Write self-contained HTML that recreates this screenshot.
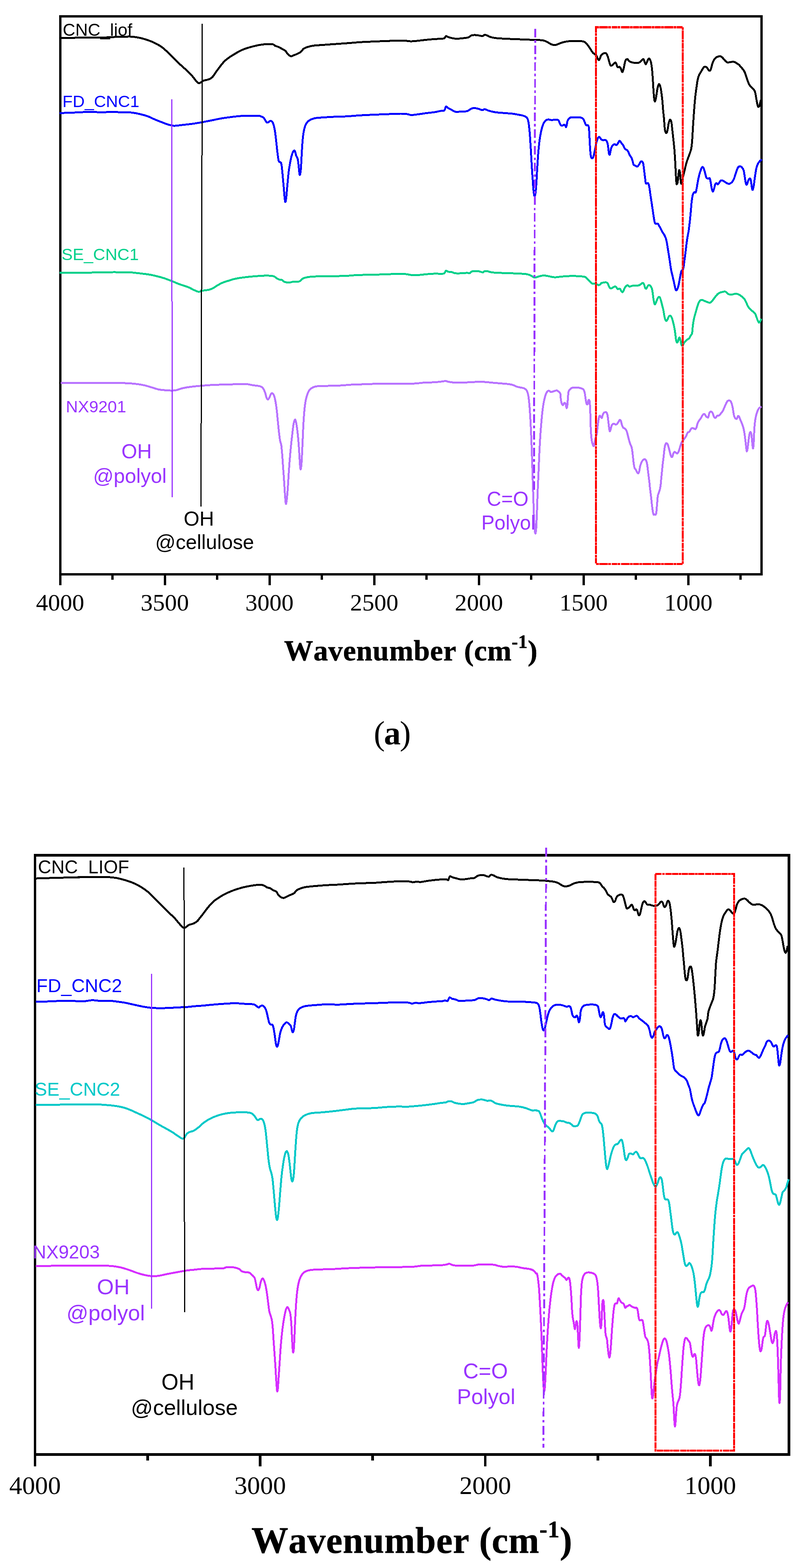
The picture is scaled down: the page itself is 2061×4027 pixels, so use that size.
<!DOCTYPE html>
<html lang="en"><head><meta charset="utf-8"><title>FTIR spectra</title>
<style>
html,body{margin:0;padding:0;background:#fff;}
body{width:2061px;height:4027px;overflow:hidden;}
svg{display:block;position:absolute;left:0;top:0;}
.tick{font-family:'Liberation Serif', 'Times New Roman', serif;fill:#000;text-anchor:middle;}
.ttl{font-family:'Liberation Serif', 'Times New Roman', serif;font-weight:bold;fill:#000;stroke:#000;stroke-width:0.8px;text-anchor:middle;font-kerning:none;}
.lab{font-family:'Liberation Sans', Arial, sans-serif;}
.crv{fill:none;stroke-linejoin:round;stroke-linecap:butt;}
</style></head><body>
<svg width="2061" height="4027" viewBox="0 0 2061 4027">
<rect x="0" y="0" width="2061" height="4027" fill="#ffffff"/>
<g id="chartA">
<rect x="154.5" y="41.8" width="1802.5" height="1433.2" fill="none" stroke="#000" stroke-width="6" shape-rendering="crispEdges"/>
<path d="M154.5,1475V1503M423.6,1475V1503M692.6,1475V1503M961.7,1475V1503M1230.8,1475V1503M1499.8,1475V1503M1768.9,1475V1503M289.0,1475V1489M558.1,1475V1489M827.2,1475V1489M1096.2,1475V1489M1365.3,1475V1489M1634.4,1475V1489M1903.4,1475V1489" fill="none" stroke="#000" stroke-width="6" shape-rendering="crispEdges"/>
<path class="crv" d="M153.3,97.4C163.9,97.3 199.0,96.9 216.8,96.8C234.6,96.6 249.0,97.0 260.2,96.8C271.3,96.5 274.1,95.8 283.5,95.4C293.0,95.0 308.0,94.6 316.9,94.4C325.8,94.2 330.3,93.7 336.9,94.1C343.6,94.5 350.3,95.4 357.0,96.8C363.7,98.1 370.3,99.9 377.0,102.1C383.7,104.3 390.4,106.8 397.0,110.1C403.7,113.4 410.4,116.8 417.1,121.8C423.7,126.8 430.4,133.8 437.1,140.2C443.8,146.6 450.5,153.8 457.1,160.2C463.8,166.6 471.0,172.7 477.2,178.5C483.3,184.4 489.4,190.3 493.9,195.2C498.3,200.1 501.1,204.9 503.9,207.9C506.7,211.0 508.3,213.1 510.5,213.6C512.8,214.1 515.0,212.0 517.2,210.9C519.4,209.8 521.1,208.0 523.9,206.9C526.7,205.9 531.1,205.4 533.9,204.6C536.7,203.7 538.4,203.3 540.6,201.9C542.8,200.5 544.5,199.6 547.3,196.2C550.1,192.9 553.9,186.5 557.3,181.9C560.6,177.3 564.0,172.7 567.3,168.5C570.6,164.4 573.5,160.5 577.3,156.8C581.1,153.2 585.7,149.9 590.0,146.8C594.3,143.8 598.9,141.2 603.4,138.5C607.8,135.8 612.3,133.0 616.7,130.8C621.2,128.6 625.1,126.9 630.1,125.1C635.1,123.3 641.2,121.6 646.8,120.1C652.3,118.6 657.9,117.2 663.4,116.1C669.0,115.1 674.0,114.2 680.1,113.8C686.3,113.3 695.7,112.8 700.2,113.4C704.6,114.1 704.1,116.2 706.8,117.5C709.6,118.7 713.5,119.6 716.9,121.1C720.2,122.7 724.1,125.2 726.9,126.8C729.7,128.4 731.6,129.0 733.6,130.8C735.5,132.6 736.9,135.9 738.6,137.8C740.2,139.8 741.9,141.4 743.6,142.5C745.2,143.6 746.6,144.6 748.6,144.5C750.5,144.4 752.7,142.8 755.3,141.8C757.8,140.8 760.5,140.0 763.6,138.5C766.7,137.0 770.8,135.0 773.6,132.8C776.4,130.6 777.5,127.1 780.3,125.1C783.1,123.1 786.4,122.1 790.3,120.8C794.2,119.5 798.1,118.3 803.7,117.5C809.2,116.6 814.8,116.4 823.7,115.8C832.6,115.1 845.9,114.2 857.1,113.4C868.2,112.7 879.3,111.9 890.5,111.1C901.6,110.3 912.7,109.2 923.8,108.4C935.0,107.7 946.1,107.3 957.2,106.8C968.4,106.3 978.5,105.9 990.6,105.4C1002.7,105.0 1020.7,104.2 1030.0,104.1C1039.3,104.0 1042.2,104.8 1046.7,105.1C1051.1,105.4 1052.3,106.2 1056.7,106.1C1061.2,106.0 1066.7,105.4 1073.4,104.8C1080.1,104.1 1089.5,102.8 1096.8,102.1C1104.0,101.4 1110.7,100.9 1116.8,100.4C1122.9,100.0 1129.3,99.8 1133.5,99.4C1137.7,99.1 1139.7,99.5 1141.8,98.4C1144.0,97.3 1144.5,93.3 1146.2,92.7C1147.8,92.2 1149.0,94.1 1151.9,95.1C1154.7,96.0 1159.9,97.7 1163.5,98.4C1167.2,99.1 1169.7,99.4 1173.6,99.4C1177.4,99.4 1181.9,99.0 1186.9,98.4C1191.9,97.9 1199.4,97.4 1203.6,96.1C1207.8,94.8 1208.6,91.7 1211.9,90.7C1215.3,89.7 1220.0,89.9 1223.6,90.1C1227.2,90.2 1230.9,91.3 1233.6,91.7C1236.4,92.2 1238.4,93.1 1240.3,92.7C1242.3,92.4 1243.4,89.7 1245.3,89.4C1247.3,89.1 1249.5,90.1 1252.0,91.1C1254.5,92.0 1256.7,94.0 1260.3,95.1C1264.0,96.2 1267.6,97.0 1273.7,97.8C1279.8,98.5 1287.6,98.9 1297.1,99.4C1306.5,99.9 1319.3,100.3 1330.5,100.8C1341.6,101.2 1354.9,101.8 1363.8,102.1C1372.7,102.4 1378.3,102.4 1383.9,102.8C1389.4,103.1 1393.3,103.2 1397.2,104.1C1401.1,105.0 1403.9,106.8 1407.2,108.4C1410.6,110.1 1414.2,112.9 1417.3,114.1C1420.3,115.3 1422.8,115.9 1425.6,115.8C1428.4,115.7 1430.9,114.5 1433.9,113.4C1437.0,112.4 1440.1,110.6 1444.0,109.4C1447.9,108.3 1453.0,107.1 1457.3,106.4C1461.7,105.8 1464.0,105.5 1470.0,105.4C1476.0,105.3 1487.8,105.3 1493.4,105.8C1498.9,106.3 1500.0,106.0 1503.4,108.4C1506.7,110.8 1510.1,115.7 1513.4,120.1C1516.7,124.6 1520.4,131.5 1523.4,135.1C1526.5,138.8 1529.5,139.0 1531.8,141.8C1534.0,144.6 1535.4,149.9 1536.8,151.8C1538.2,153.8 1538.7,155.2 1540.1,153.5C1541.5,151.8 1543.2,144.6 1545.1,141.8C1547.1,139.0 1549.7,137.6 1551.8,136.8C1553.8,136.0 1555.8,135.4 1557.5,136.8C1559.1,138.2 1560.4,141.3 1561.8,145.2C1563.3,149.1 1564.9,156.3 1566.1,160.2C1567.4,164.1 1568.0,167.5 1569.5,168.5C1571.0,169.5 1573.1,167.5 1575.2,166.2C1577.2,164.9 1579.9,159.9 1581.8,160.8C1583.8,161.8 1585.2,170.0 1586.8,171.9C1588.5,173.7 1590.5,171.3 1591.9,171.9C1593.2,172.4 1594.0,173.0 1595.2,175.2C1596.4,177.4 1597.9,185.2 1599.2,185.2C1600.5,185.2 1601.6,179.9 1602.9,175.2C1604.1,170.5 1605.4,160.7 1606.9,156.8C1608.4,152.9 1610.2,151.8 1611.9,151.8C1613.6,151.8 1615.2,155.6 1616.9,156.8C1618.6,158.1 1619.1,158.7 1621.9,159.5C1624.7,160.3 1630.0,161.7 1633.6,161.9C1637.2,162.0 1640.4,161.9 1643.6,160.2C1646.8,158.5 1650.8,152.1 1652.9,151.8C1655.1,151.6 1655.2,156.3 1656.3,158.5C1657.4,160.7 1658.4,165.5 1659.6,165.2C1660.8,164.9 1662.3,159.3 1663.6,156.8C1665.0,154.3 1666.2,150.2 1667.6,150.2C1669.0,150.2 1670.7,152.7 1672.0,156.8C1673.3,161.0 1674.4,167.4 1675.3,175.2C1676.3,183.0 1676.9,193.3 1677.6,203.6C1678.4,213.9 1678.9,227.6 1679.7,237.0C1680.4,246.3 1681.4,256.9 1682.3,259.7C1683.3,262.4 1684.1,259.1 1685.3,253.7C1686.6,248.2 1688.3,233.2 1689.7,226.9C1691.1,220.7 1692.3,215.9 1693.7,215.9C1695.1,215.9 1696.6,220.1 1698.0,226.9C1699.4,233.8 1701.0,248.2 1702.0,257.0C1703.0,265.8 1703.1,271.9 1703.8,280.0C1704.6,288.1 1705.7,297.6 1706.4,305.8C1707.1,314.0 1707.6,323.4 1708.2,329.0C1708.9,334.6 1709.5,337.3 1710.3,339.3C1711.1,341.4 1712.0,342.3 1712.9,341.4C1713.7,340.5 1714.5,338.4 1715.4,334.2C1716.4,330.0 1717.5,320.6 1718.5,316.1C1719.6,311.6 1720.8,307.5 1721.9,307.1C1723.0,306.7 1724.3,309.0 1725.3,313.5C1726.2,318.1 1727.0,326.9 1727.8,334.2C1728.7,341.5 1729.5,349.2 1730.4,357.4C1731.3,365.6 1732.2,373.7 1733.0,383.2C1733.8,392.6 1734.5,403.8 1735.1,414.1C1735.7,424.5 1736.1,436.1 1736.6,445.1C1737.1,454.1 1737.7,463.7 1738.1,468.3C1738.6,473.0 1738.8,473.4 1739.4,473.0C1740.0,472.5 1741.0,470.4 1741.8,465.7C1742.5,461.1 1743.2,449.9 1743.8,445.1C1744.5,440.3 1745.0,436.8 1745.6,436.8C1746.3,436.8 1747.0,440.3 1747.7,445.1C1748.3,449.9 1748.9,461.2 1749.5,465.7C1750.1,470.3 1750.4,472.2 1751.0,472.2C1751.6,472.2 1752.4,469.0 1753.1,465.7C1753.8,462.5 1754.4,457.6 1755.4,452.8C1756.5,448.1 1757.8,443.4 1759.3,437.4C1760.8,431.3 1762.5,423.2 1764.5,416.7C1766.4,410.3 1769.0,404.3 1770.9,398.7C1772.8,393.1 1774.8,389.2 1776.1,383.2C1777.4,377.2 1777.9,371.1 1778.6,362.5C1779.4,354.0 1779.8,341.9 1780.5,331.6C1781.1,321.3 1782.2,305.9 1782.5,300.6C1782.9,295.4 1782.1,305.6 1782.5,300.0C1783.0,294.4 1784.2,276.6 1785.0,266.9C1785.9,257.2 1786.7,249.1 1787.5,241.9C1788.4,234.6 1789.2,229.4 1790.0,223.5C1790.9,217.7 1791.6,211.7 1792.5,206.8C1793.5,202.0 1794.5,197.9 1795.9,194.3C1797.3,190.7 1799.2,188.1 1800.9,185.1C1802.6,182.2 1804.5,179.0 1805.9,176.8C1807.3,174.6 1808.0,173.0 1809.2,172.1C1810.4,171.2 1811.7,171.0 1813.1,171.4C1814.5,171.9 1816.3,173.3 1817.6,174.8C1818.9,176.2 1820.0,179.0 1820.9,180.1C1821.9,181.3 1822.6,181.8 1823.4,181.8C1824.3,181.8 1825.1,181.8 1825.9,180.1C1826.8,178.5 1827.6,174.7 1828.4,171.8C1829.3,168.9 1829.8,165.7 1830.9,162.6C1832.1,159.5 1833.6,155.9 1835.1,153.4C1836.6,150.9 1838.5,148.9 1840.1,147.6C1841.8,146.2 1843.5,146.0 1845.1,145.4C1846.8,144.8 1848.6,144.2 1850.1,144.2C1851.7,144.3 1852.8,144.8 1854.3,145.9C1855.8,147.0 1857.6,149.1 1859.3,150.9C1861.0,152.7 1862.7,155.2 1864.3,156.8C1866.0,158.3 1867.5,159.9 1869.3,160.4C1871.1,160.9 1873.1,160.0 1875.2,159.8C1877.3,159.5 1879.8,158.8 1881.9,158.8C1883.9,158.7 1885.7,158.6 1887.7,159.3C1889.6,159.9 1891.6,161.3 1893.5,162.6C1895.5,163.8 1897.4,165.0 1899.4,166.8C1901.3,168.6 1903.4,171.4 1905.2,173.4C1907.0,175.5 1908.7,177.1 1910.2,179.3C1911.8,181.5 1913.1,183.9 1914.4,186.8C1915.7,189.7 1916.6,193.5 1917.7,196.8C1918.9,200.2 1919.8,203.5 1921.1,206.8C1922.3,210.2 1923.7,214.1 1925.3,216.8C1926.8,219.6 1928.6,221.6 1930.3,223.5C1931.9,225.5 1933.7,226.9 1935.3,228.5C1936.8,230.2 1938.3,231.0 1939.4,233.5C1940.6,236.0 1941.1,239.4 1941.9,243.6C1942.8,247.7 1943.6,254.1 1944.4,258.6C1945.3,263.0 1946.2,267.5 1946.9,270.3C1947.7,273.0 1948.2,274.7 1949.0,274.9C1949.7,275.2 1950.8,273.8 1951.6,271.9C1952.4,270.0 1953.0,266.1 1953.6,263.6C1954.2,261.1 1955.0,258.0 1955.3,256.9" stroke="#000000" stroke-width="5" shape-rendering="crispEdges"/>
<path class="crv" d="M153.3,290.4C161.1,290.1 186.7,289.3 200.1,288.7C213.4,288.2 223.4,287.0 233.5,287.0C243.5,287.0 250.7,288.7 260.2,288.7C269.6,288.7 281.9,287.0 290.2,287.0C298.6,287.0 303.0,288.4 310.2,288.7C317.5,289.0 326.9,288.3 333.6,288.7C340.3,289.1 343.1,289.5 350.3,291.0C357.5,292.5 369.2,295.2 377.0,297.7C384.8,300.3 390.4,303.6 397.0,306.4C403.7,309.2 411.0,312.1 417.1,314.4C423.2,316.8 428.8,319.0 433.8,320.4C438.8,321.9 441.6,323.0 447.1,323.1C452.7,323.2 458.2,322.1 467.1,321.1C476.0,320.1 489.4,318.8 500.5,317.1C511.7,315.4 522.8,313.2 533.9,311.1C545.0,309.0 558.0,306.1 567.3,304.4C576.6,302.7 582.9,302.0 590.0,301.1C597.1,300.1 603.4,299.3 610.0,298.7C616.7,298.1 621.2,297.6 630.1,297.4C639.0,297.2 656.9,297.2 663.4,297.4C670.0,297.6 667.4,297.9 669.6,298.6C671.8,299.3 674.7,300.2 676.5,301.6C678.3,302.9 679.3,304.8 680.4,306.5C681.6,308.2 682.4,310.4 683.4,311.8C684.4,313.2 685.2,314.7 686.4,315.0C687.5,315.2 689.1,314.1 690.3,313.4C691.5,312.7 692.5,311.3 693.7,310.8C694.8,310.4 696.0,310.1 697.2,310.8C698.5,311.6 700.0,313.1 701.2,315.4C702.3,317.6 703.2,320.6 704.1,324.2C705.0,327.9 705.9,332.3 706.7,337.1C707.4,341.8 708.0,347.3 708.6,352.9C709.3,358.4 710.0,364.7 710.6,370.6C711.3,376.5 711.9,382.8 712.6,388.4C713.3,394.0 713.9,399.9 714.6,404.1C715.2,408.4 715.8,412.0 716.5,414.0C717.3,416.0 718.0,415.8 718.9,416.4C719.8,417.0 721.0,416.0 721.9,417.6C722.7,419.1 723.2,422.2 723.8,425.8C724.4,429.5 724.9,434.7 725.4,439.7C725.9,444.6 726.3,449.8 726.8,455.4C727.3,461.0 727.9,467.6 728.4,473.2C728.9,478.8 729.3,483.7 729.8,489.0C730.2,494.2 730.7,500.3 731.1,504.7C731.6,509.2 732.0,513.2 732.3,515.6C732.7,518.0 732.9,519.1 733.3,519.0C733.7,518.8 734.2,517.6 734.7,514.6C735.2,511.6 735.7,506.1 736.3,500.8C736.8,495.5 737.3,489.3 737.8,483.1C738.4,476.8 739.0,469.9 739.6,463.3C740.2,456.7 740.8,449.8 741.6,443.6C742.3,437.3 743.2,431.8 744.2,425.8C745.1,419.9 746.4,413.2 747.5,408.1C748.6,403.0 749.8,398.6 750.9,395.3C751.9,392.0 753.0,389.8 754.0,388.4C755.0,386.9 756.0,386.3 756.8,386.8C757.6,387.3 758.2,389.1 759.0,391.3C759.7,393.6 760.4,397.6 761.3,400.2C762.3,402.8 763.9,404.5 764.7,407.1C765.5,409.7 765.7,412.2 766.3,416.0C766.8,419.8 767.3,425.2 767.8,429.8C768.3,434.4 768.8,440.4 769.2,443.6C769.6,446.8 769.8,448.8 770.2,449.1C770.6,449.4 771.2,448.5 771.8,445.6C772.3,442.7 772.9,438.0 773.4,431.8C773.8,425.5 774.3,416.3 774.7,408.1C775.2,399.9 775.6,390.3 776.1,382.4C776.6,374.6 777.1,367.3 777.7,360.7C778.3,354.2 778.9,348.2 779.7,343.0C780.5,337.7 781.4,333.1 782.4,329.2C783.5,325.2 784.6,322.1 786.0,319.3C787.4,316.5 788.9,314.4 790.9,312.4C792.9,310.4 795.0,308.9 797.8,307.5C800.6,306.1 804.4,304.8 807.7,303.9C811.0,303.1 812.6,303.0 817.5,302.5C822.5,302.1 830.7,301.6 837.3,301.2C843.8,300.7 850.4,300.2 857.0,300.0C863.6,299.7 869.6,299.9 876.7,299.6C883.9,299.3 892.1,298.7 900.0,298.2C907.9,297.7 914.3,297.0 923.8,296.4C933.4,295.8 946.1,295.2 957.2,294.7C968.4,294.2 978.5,293.8 990.6,293.4C1002.7,292.9 1020.7,292.1 1030.0,292.0C1039.3,292.0 1042.2,292.5 1046.7,293.1C1051.1,293.6 1052.3,295.3 1056.7,295.4C1061.2,295.5 1066.7,294.6 1073.4,293.7C1080.1,292.9 1089.5,291.3 1096.8,290.4C1104.0,289.4 1110.7,289.0 1116.8,288.0C1122.9,287.1 1129.3,285.4 1133.5,284.7C1137.7,284.0 1139.7,285.5 1141.8,283.7C1144.0,281.9 1144.5,274.7 1146.2,273.7C1147.8,272.7 1149.5,276.3 1151.9,277.7C1154.2,279.1 1157.1,280.5 1160.2,282.0C1163.3,283.6 1165.8,286.3 1170.2,287.0C1174.7,287.8 1181.9,286.7 1186.9,286.4C1191.9,286.1 1196.1,286.7 1200.3,285.4C1204.4,284.1 1208.6,280.0 1211.9,278.7C1215.3,277.4 1217.2,277.5 1220.3,277.7C1223.3,277.9 1227.0,278.8 1230.3,279.7C1233.6,280.6 1237.8,282.9 1240.3,283.0C1242.8,283.1 1242.5,280.1 1245.3,280.4C1248.1,280.6 1252.3,283.4 1257.0,284.7C1261.7,286.0 1267.0,287.4 1273.7,288.4C1280.4,289.3 1289.8,289.8 1297.1,290.4C1304.3,291.0 1311.6,291.4 1317.1,292.0C1322.6,292.7 1326.3,293.6 1330.0,294.2C1333.7,294.9 1336.5,295.2 1339.4,295.9C1342.3,296.5 1345.3,297.3 1347.6,298.2C1350.0,299.2 1352.0,300.0 1353.5,301.8C1355.1,303.5 1356.1,305.3 1357.0,308.8C1358.0,312.3 1358.7,317.4 1359.4,322.9C1360.1,328.4 1360.7,334.7 1361.3,341.7C1361.9,348.8 1362.4,357.0 1362.9,365.3C1363.5,373.5 1364.1,382.5 1364.6,391.1C1365.1,399.8 1365.5,408.4 1366.0,417.0C1366.5,425.6 1367.1,434.7 1367.6,442.9C1368.2,451.1 1368.8,459.3 1369.3,466.4C1369.8,473.5 1370.2,479.7 1370.7,485.2C1371.2,490.7 1371.8,496.2 1372.3,499.3C1372.8,502.5 1373.2,503.8 1373.7,504.0C1374.3,504.2 1374.8,503.3 1375.4,500.5C1375.9,497.8 1376.5,493.3 1377.0,487.6C1377.6,481.9 1378.2,474.2 1378.7,466.4C1379.2,458.6 1379.6,449.2 1380.1,440.5C1380.6,431.9 1381.2,423.3 1381.7,414.7C1382.3,406.0 1382.9,397.0 1383.6,388.8C1384.3,380.6 1385.1,372.3 1386.0,365.3C1386.8,358.2 1387.7,352.3 1388.8,346.4C1389.9,340.6 1391.1,334.7 1392.3,330.0C1393.6,325.3 1395.0,321.4 1396.3,318.2C1397.7,315.1 1399.1,312.9 1400.6,311.2C1402.1,309.4 1403.7,308.3 1405.3,307.6C1406.8,306.9 1408.0,306.8 1410.0,306.9C1411.9,307.1 1414.7,308.2 1417.0,308.3C1419.4,308.5 1421.7,307.8 1424.1,307.6C1426.4,307.4 1429.2,306.8 1431.1,307.2C1433.1,307.6 1434.7,308.5 1435.8,310.0C1437.0,311.4 1437.3,314.0 1438.2,315.9C1439.1,317.7 1439.9,319.9 1441.0,321.0C1442.1,322.2 1443.5,323.0 1444.8,322.9C1446.1,322.9 1447.5,320.8 1448.8,320.6C1450.0,320.4 1451.3,320.8 1452.3,321.8C1453.3,322.7 1454.0,326.7 1454.7,326.5C1455.4,326.3 1456.0,323.1 1456.5,320.6C1457.1,318.0 1457.3,313.7 1458.2,311.2C1459.0,308.6 1460.3,306.9 1461.7,305.3C1463.1,303.7 1464.1,302.5 1466.4,301.8C1468.8,301.1 1472.7,301.1 1475.8,301.1C1479.0,301.0 1482.1,301.1 1485.2,301.3C1488.4,301.5 1492.3,301.7 1494.6,302.5C1497.0,303.2 1498.0,304.0 1499.3,306.0C1500.7,308.0 1501.7,312.1 1502.9,314.7C1504.1,317.3 1505.0,320.6 1506.4,321.8C1507.8,322.9 1509.9,320.6 1511.1,321.8C1512.3,322.9 1512.9,324.7 1513.5,328.8C1514.0,332.9 1514.2,339.6 1514.6,346.4C1515.0,353.3 1515.4,362.5 1515.8,370.0C1516.2,377.4 1516.7,385.6 1517.2,391.1C1517.7,396.6 1518.1,400.4 1518.9,402.9C1519.6,405.4 1520.7,406.4 1521.7,406.4C1522.7,406.4 1523.8,405.4 1524.7,402.9C1525.7,400.4 1526.6,395.5 1527.6,391.1C1528.5,386.8 1529.4,381.7 1530.4,377.0C1531.4,372.3 1532.4,366.6 1533.5,362.9C1534.5,359.2 1535.5,356.6 1536.5,354.7C1537.6,352.8 1538.7,351.6 1539.8,351.6C1540.9,351.6 1542.0,353.6 1542.9,354.7C1543.8,355.8 1544.0,357.3 1545.2,358.2C1546.4,359.1 1548.3,359.9 1549.9,360.1C1551.5,360.3 1553.2,359.1 1554.6,359.4C1556.1,359.7 1557.4,360.0 1558.6,361.7C1559.8,363.5 1560.9,366.2 1561.7,370.0C1562.5,373.7 1563.0,379.8 1563.6,384.1C1564.1,388.4 1564.6,393.7 1565.2,395.8C1565.8,398.0 1566.5,398.2 1567.1,397.0C1567.7,395.8 1568.1,391.7 1568.7,388.8C1569.4,385.8 1570.1,381.9 1571.1,379.4C1572.1,376.8 1573.2,375.0 1574.6,373.5C1576.0,372.0 1577.7,370.6 1579.3,370.4C1580.9,370.2 1582.6,372.6 1584.0,372.3C1585.4,372.0 1586.4,370.4 1587.5,368.8C1588.7,367.1 1590.1,363.5 1591.1,362.4C1592.1,361.4 1592.4,361.6 1593.4,362.4C1594.4,363.3 1595.6,365.8 1597.0,367.6C1598.3,369.5 1600.1,370.9 1601.7,373.5C1603.2,376.0 1604.8,380.9 1606.4,382.9C1607.9,384.9 1609.7,384.1 1611.1,385.3C1612.4,386.4 1613.4,387.8 1614.6,390.0C1615.8,392.1 1616.8,395.6 1618.1,398.2C1619.5,400.7 1621.5,402.5 1622.8,405.3C1624.1,408.0 1625.0,411.7 1625.9,414.7C1626.8,417.6 1627.2,421.1 1628.2,422.9C1629.3,424.7 1631.0,424.5 1632.2,425.2C1633.5,426.0 1634.8,427.2 1635.8,427.6C1636.7,428.0 1637.1,428.3 1638.1,427.6C1639.1,426.9 1640.6,425.1 1641.9,423.2C1643.2,421.3 1644.5,417.6 1645.8,416.2C1647.1,414.8 1648.5,413.9 1649.7,414.7C1650.9,415.4 1652.0,416.4 1653.0,420.6C1654.0,424.8 1654.7,433.3 1655.6,439.9C1656.5,446.6 1657.4,455.3 1658.2,460.6C1658.9,465.8 1658.8,469.8 1660.0,471.4C1661.1,473.0 1663.9,469.6 1665.1,470.4C1666.4,471.2 1666.9,472.5 1667.7,476.1C1668.6,479.6 1669.8,488.0 1670.3,491.5C1670.8,495.0 1670.3,492.5 1671.0,497.0C1671.6,501.4 1673.1,511.2 1674.2,518.2C1675.2,525.3 1676.3,532.4 1677.4,539.5C1678.4,546.6 1679.6,555.1 1680.5,560.7C1681.5,566.4 1682.2,571.2 1683.3,573.5C1684.4,575.8 1685.7,574.4 1686.9,574.5C1688.1,574.7 1689.3,573.5 1690.5,574.5C1691.8,575.6 1693.0,578.6 1694.4,580.9C1695.7,583.2 1697.2,585.7 1698.6,588.3C1700.0,591.0 1701.4,594.4 1702.9,596.8C1704.3,599.3 1705.8,600.7 1707.1,603.2C1708.4,605.7 1709.8,608.2 1710.9,611.7C1712.1,615.3 1712.9,619.5 1713.9,624.5C1714.9,629.4 1715.7,635.8 1716.7,641.5C1717.6,647.1 1718.5,652.8 1719.4,658.5C1720.3,664.1 1721.1,669.8 1722.0,675.4C1722.8,681.1 1723.5,687.1 1724.5,692.4C1725.5,697.8 1726.9,702.7 1727.9,707.3C1729.0,711.9 1729.9,715.8 1730.9,720.1C1731.9,724.3 1732.8,729.1 1733.7,732.8C1734.5,736.5 1735.1,740.2 1735.8,742.4C1736.5,744.5 1737.1,745.6 1737.9,745.6C1738.7,745.6 1739.8,744.1 1740.7,742.4C1741.6,740.6 1742.4,738.3 1743.2,734.9C1744.1,731.6 1745.0,726.4 1745.8,722.2C1746.6,717.9 1747.4,713.2 1748.1,709.4C1748.8,705.7 1749.3,702.4 1750.0,699.9C1750.7,697.4 1751.3,695.8 1752.1,694.6C1753.0,693.3 1754.1,694.2 1754.9,692.4C1755.7,690.7 1756.3,688.2 1757.0,683.9C1757.7,679.7 1758.3,673.3 1759.2,666.9C1760.0,660.6 1761.0,652.8 1761.9,645.7C1762.8,638.6 1763.6,630.8 1764.5,624.5C1765.3,618.1 1766.1,612.8 1767.0,607.5C1767.9,602.2 1769.0,597.9 1769.8,592.6C1770.6,587.3 1771.2,581.6 1771.9,575.6C1772.6,569.6 1773.4,562.9 1774.0,556.5C1774.7,550.1 1775.2,543.4 1775.7,537.4C1776.3,531.3 1776.7,525.3 1777.2,520.4C1777.7,515.4 1778.3,511.3 1778.9,507.6C1779.5,503.9 1780.2,500.4 1781.0,498.1C1781.9,495.8 1782.9,494.4 1784.0,493.8C1785.1,493.2 1786.8,496.1 1787.8,494.4C1788.9,492.8 1789.3,488.6 1790.3,483.8C1791.2,479.0 1792.3,471.3 1793.4,465.7C1794.4,460.1 1795.5,455.0 1796.7,450.3C1797.9,445.5 1799.3,440.9 1800.6,437.4C1801.9,433.8 1803.2,430.0 1804.4,429.1C1805.7,428.2 1807.0,429.5 1808.3,432.2C1809.6,434.9 1811.0,441.0 1812.2,445.1C1813.4,449.2 1814.2,454.5 1815.5,456.7C1816.8,458.9 1818.5,458.3 1819.9,458.5C1821.3,458.7 1822.7,456.4 1823.8,458.0C1824.9,459.6 1825.5,464.0 1826.4,468.3C1827.2,472.6 1828.1,479.8 1829.0,483.8C1829.8,487.7 1830.6,491.6 1831.5,492.0C1832.5,492.5 1833.6,489.5 1834.6,486.4C1835.7,483.3 1836.9,476.1 1838.0,473.5C1839.1,470.8 1840.2,470.4 1841.3,470.4C1842.5,470.4 1843.6,474.0 1844.9,473.5C1846.3,472.9 1848.2,468.7 1849.6,467.0C1851.0,465.3 1851.7,463.5 1853.5,463.2C1855.2,462.9 1857.5,464.0 1859.9,465.2C1862.3,466.4 1865.3,469.2 1867.6,470.4C1870.0,471.5 1871.9,472.5 1874.1,472.2C1876.2,471.8 1878.6,470.3 1880.5,468.3C1882.5,466.4 1884.0,464.4 1885.7,460.6C1887.4,456.7 1889.1,450.0 1890.9,445.1C1892.6,440.2 1894.3,433.9 1896.0,430.9C1897.7,427.9 1899.5,427.3 1901.2,427.0C1902.9,426.8 1904.7,427.9 1906.3,429.6C1908.0,431.3 1909.7,433.1 1911.0,437.4C1912.3,441.7 1913.1,449.8 1914.1,455.4C1915.0,461.0 1915.8,467.8 1916.7,470.9C1917.5,474.0 1918.2,475.3 1919.2,474.0C1920.3,472.7 1921.8,465.8 1923.1,463.2C1924.4,460.5 1925.9,458.0 1927.0,458.0C1928.1,458.0 1928.7,459.3 1929.6,463.2C1930.4,467.0 1931.4,477.1 1932.1,481.2C1932.9,485.3 1933.4,488.1 1934.2,487.7C1935.0,487.2 1935.8,484.0 1936.8,478.6C1937.7,473.3 1938.7,463.2 1939.9,455.4C1941.0,447.7 1942.5,438.0 1943.7,432.2C1945.0,426.4 1946.1,423.7 1947.6,420.6C1949.1,417.5 1951.1,415.5 1952.8,413.6C1954.5,411.8 1957.1,410.2 1957.9,409.5" stroke="#0000ff" stroke-width="5" shape-rendering="crispEdges"/>
<path class="crv" d="M153.3,700.8C163.9,700.7 195.1,700.4 216.8,700.2C238.5,699.9 270.7,699.8 283.5,699.5C296.3,699.2 290.2,698.4 293.6,698.5C296.9,698.5 296.9,699.7 303.6,699.8C310.2,700.0 324.7,699.2 333.6,699.5C342.5,699.8 348.6,700.9 357.0,701.8C365.3,702.8 375.9,703.9 383.7,705.2C391.5,706.4 397.0,707.8 403.7,709.5C410.4,711.2 417.1,712.9 423.7,715.2C430.4,717.4 437.1,720.2 443.8,722.9C450.5,725.5 457.1,728.4 463.8,730.9C470.5,733.3 478.3,735.3 483.8,737.5C489.4,739.8 493.3,742.4 497.2,744.2C501.1,746.1 504.7,747.7 507.2,748.6C509.7,749.4 510.3,749.5 512.2,749.2C514.2,748.9 516.4,747.5 518.9,746.9C521.4,746.3 524.2,746.0 527.2,745.6C530.3,745.1 533.9,745.1 537.3,744.2C540.6,743.3 543.4,742.3 547.3,740.2C551.2,738.2 556.2,734.4 560.6,731.9C565.1,729.4 569.1,727.1 574.0,725.2C578.9,723.2 585.1,721.7 590.0,720.2C594.9,718.7 597.8,717.4 603.4,716.2C608.9,715.0 616.2,713.8 623.4,712.8C630.6,711.8 639.0,710.9 646.8,710.2C654.5,709.4 663.4,708.9 670.1,708.5C676.8,708.1 681.2,707.7 686.8,707.8C692.4,708.0 699.6,708.4 703.5,709.5C707.4,710.6 708.0,712.8 710.2,714.2C712.4,715.6 714.6,717.1 716.9,717.8C719.1,718.6 721.0,717.5 723.5,718.5C726.0,719.6 728.5,723.0 731.9,724.2C735.2,725.4 739.9,725.6 743.6,725.5C747.2,725.4 750.2,723.9 753.6,723.5C756.9,723.2 760.8,723.7 763.6,723.5C766.4,723.3 767.8,723.6 770.3,722.2C772.8,720.8 775.3,716.9 778.6,715.2C782.0,713.4 785.6,712.7 790.3,711.8C795.0,711.0 798.6,710.6 807.0,710.2C815.3,709.7 827.6,709.4 840.4,709.2C853.2,708.9 871.0,709.3 883.8,708.8C896.6,708.4 904.9,707.1 917.2,706.5C929.4,705.9 945.0,705.8 957.2,705.5C969.5,705.2 978.5,704.9 990.6,704.5C1002.7,704.1 1020.7,703.2 1030.0,703.2C1039.3,703.2 1042.2,704.0 1046.7,704.5C1051.1,705.0 1051.7,705.9 1056.7,706.2C1061.7,706.4 1070.1,706.5 1076.7,706.2C1083.4,705.8 1089.5,704.7 1096.8,704.2C1104.0,703.6 1114.0,702.9 1120.1,702.8C1126.3,702.7 1129.9,703.7 1133.5,703.5C1137.1,703.3 1139.7,703.2 1141.8,701.8C1144.0,700.4 1144.5,695.8 1146.2,695.1C1147.8,694.5 1149.5,697.3 1151.9,697.8C1154.2,698.4 1157.1,697.8 1160.2,698.5C1163.3,699.2 1165.8,701.3 1170.2,701.8C1174.7,702.4 1181.9,702.0 1186.9,701.8C1191.9,701.7 1196.9,700.8 1200.3,700.8C1203.6,700.8 1204.7,702.5 1206.9,701.8C1209.2,701.2 1209.7,697.6 1213.6,696.8C1217.5,696.0 1225.9,696.4 1230.3,696.8C1234.8,697.3 1237.8,699.5 1240.3,699.5C1242.8,699.5 1243.1,697.3 1245.3,696.8C1247.6,696.4 1250.6,696.4 1253.7,696.8C1256.7,697.3 1258.7,698.8 1263.7,699.5C1268.7,700.2 1275.4,700.4 1283.7,700.8C1292.1,701.2 1304.9,701.5 1313.8,701.8C1322.7,702.2 1330.5,702.4 1337.1,702.8C1343.8,703.2 1349.4,703.4 1353.8,704.2C1358.3,704.9 1360.5,706.0 1363.8,707.5C1367.2,708.9 1370.5,712.4 1373.9,712.8C1377.2,713.3 1380.0,711.1 1383.9,710.2C1387.8,709.3 1392.8,707.6 1397.2,707.5C1401.7,707.4 1405.8,708.7 1410.6,709.5C1415.3,710.3 1420.0,712.1 1425.6,712.2C1431.2,712.3 1436.6,710.7 1444.0,710.2C1451.4,709.6 1462.4,708.9 1470.0,708.8C1477.6,708.7 1484.1,709.2 1489.7,709.6C1495.3,710.0 1500.2,710.0 1503.5,711.2C1506.8,712.3 1507.3,714.5 1509.5,716.5C1511.6,718.5 1514.3,721.0 1516.4,723.0C1518.4,725.0 1519.5,727.4 1521.7,728.3C1523.8,729.2 1527.1,728.0 1529.2,728.3C1531.3,728.7 1532.6,729.6 1534.1,730.3C1535.6,731.0 1536.7,732.2 1538.1,732.3C1539.4,732.4 1540.8,731.8 1542.0,730.9C1543.2,730.0 1543.9,727.8 1545.4,726.9C1546.8,726.1 1549.0,726.1 1550.9,725.8C1552.8,725.4 1555.1,724.7 1556.8,725.0C1558.5,725.2 1559.9,725.9 1561.1,727.3C1562.4,728.8 1563.3,731.7 1564.3,733.7C1565.3,735.6 1566.0,738.0 1567.1,739.2C1568.1,740.4 1569.2,740.9 1570.6,740.8C1572.0,740.6 1573.9,739.0 1575.5,738.2C1577.2,737.3 1579.1,735.6 1580.5,735.6C1581.9,735.6 1582.9,737.0 1584.0,738.2C1585.2,739.4 1586.3,742.2 1587.4,742.7C1588.5,743.3 1589.6,741.6 1590.7,741.5C1591.8,741.4 1592.9,741.1 1593.9,742.1C1594.9,743.2 1595.9,746.6 1596.8,748.1C1597.8,749.5 1598.8,751.0 1599.8,750.6C1600.8,750.3 1601.5,748.2 1602.6,746.1C1603.6,744.0 1604.9,740.3 1606.1,738.2C1607.4,736.1 1608.8,734.5 1610.1,733.7C1611.3,732.8 1612.3,732.4 1613.6,732.9C1614.9,733.3 1616.2,736.0 1618.0,736.2C1619.7,736.5 1621.9,734.7 1623.9,734.2C1625.8,733.8 1627.5,733.4 1629.8,733.3C1632.1,733.1 1635.4,733.4 1637.7,733.3C1640.0,733.1 1641.8,733.1 1643.6,732.3C1645.4,731.5 1647.0,729.2 1648.5,728.3C1650.0,727.4 1651.3,726.5 1652.5,726.9C1653.6,727.4 1654.5,729.3 1655.4,731.3C1656.3,733.3 1656.9,737.5 1657.8,739.2C1658.7,740.8 1660.0,741.6 1661.0,741.2C1661.9,740.7 1662.7,737.7 1663.7,736.2C1664.7,734.7 1665.8,732.8 1666.9,732.3C1668.0,731.7 1669.1,732.0 1670.2,732.9C1671.3,733.7 1672.6,735.2 1673.6,737.2C1674.6,739.2 1675.4,741.5 1676.1,745.1C1676.9,748.7 1677.5,754.3 1678.1,758.9C1678.8,763.5 1679.3,768.9 1680.1,772.7C1680.8,776.5 1681.8,780.8 1682.7,781.6C1683.5,782.4 1684.4,779.8 1685.4,777.6C1686.5,775.5 1687.8,771.2 1689.0,768.8C1690.2,766.3 1691.4,763.6 1692.5,762.9C1693.7,762.1 1694.8,762.8 1695.9,764.4C1696.9,766.1 1697.8,769.4 1698.8,772.7C1699.8,776.1 1700.8,780.6 1701.8,784.6C1702.8,788.5 1703.9,792.1 1704.7,796.4C1705.6,800.7 1706.4,806.5 1707.1,810.2C1707.8,813.9 1708.1,816.3 1708.9,818.6C1709.7,821.0 1710.8,823.8 1711.8,824.2C1712.9,824.5 1714.2,822.5 1715.4,820.6C1716.5,818.7 1717.5,814.3 1718.7,812.7C1720.0,811.1 1721.4,810.5 1722.7,811.1C1724.0,811.8 1725.4,813.8 1726.6,816.7C1727.8,819.6 1728.9,824.2 1730.0,828.5C1731.1,832.8 1732.2,837.4 1733.1,842.3C1734.1,847.2 1734.8,852.8 1735.5,858.1C1736.2,863.3 1736.8,870.3 1737.5,873.9C1738.2,877.4 1739.0,878.9 1739.8,879.4C1740.7,879.9 1741.7,878.6 1742.4,876.8C1743.2,875.1 1743.7,870.6 1744.4,868.9C1745.0,867.3 1745.7,866.5 1746.4,867.0C1747.0,867.5 1747.7,869.4 1748.3,871.9C1749.0,874.4 1749.6,879.1 1750.3,881.8C1751.0,884.4 1751.5,887.0 1752.3,887.7C1753.1,888.3 1754.1,887.2 1755.2,885.7C1756.4,884.2 1757.5,880.9 1759.2,878.8C1760.8,876.7 1763.1,874.5 1765.1,872.9C1767.1,871.2 1769.4,870.7 1771.0,868.9C1772.7,867.1 1773.7,864.2 1775.0,862.0C1776.2,859.9 1777.7,859.4 1778.5,856.1C1779.3,852.8 1779.3,847.2 1779.9,842.3C1780.5,837.4 1781.0,831.5 1781.9,826.5C1782.7,821.6 1783.7,817.3 1784.8,812.7C1786.0,808.1 1787.5,803.5 1788.8,798.9C1790.1,794.3 1791.4,789.0 1792.7,785.1C1794.0,781.2 1795.3,777.6 1796.7,775.2C1798.0,772.9 1799.3,771.7 1800.6,770.9C1801.9,770.1 1802.9,770.0 1804.6,770.3C1806.2,770.6 1808.3,772.0 1810.5,772.9C1812.6,773.8 1815.2,774.8 1817.4,775.6C1819.5,776.4 1821.6,777.5 1823.3,777.6C1824.9,777.7 1825.8,777.4 1827.2,776.2C1828.7,775.0 1830.4,772.6 1832.2,770.3C1834.0,768.0 1836.1,764.9 1838.1,762.4C1840.1,759.9 1842.0,757.3 1844.0,755.5C1846.0,753.7 1847.6,752.5 1849.9,751.6C1852.2,750.6 1855.7,750.1 1857.8,749.6C1860.0,749.1 1861.3,748.4 1862.7,748.6C1864.2,748.8 1865.2,749.5 1866.7,750.6C1868.2,751.7 1869.8,754.1 1871.6,755.1C1873.4,756.1 1875.6,756.4 1877.5,756.5C1879.5,756.6 1881.5,756.2 1883.5,755.9C1885.4,755.6 1887.4,754.7 1889.4,754.5C1891.4,754.4 1893.3,754.6 1895.3,755.1C1897.3,755.7 1899.2,756.7 1901.2,757.9C1903.2,759.1 1905.2,760.7 1907.1,762.4C1909.1,764.2 1911.4,766.2 1913.1,768.3C1914.7,770.5 1915.7,772.6 1917.0,775.2C1918.3,777.9 1919.6,781.5 1920.9,784.1C1922.3,786.7 1923.4,789.0 1924.9,791.0C1926.4,793.0 1928.0,794.3 1929.8,795.9C1931.6,797.6 1933.9,799.2 1935.7,800.9C1937.5,802.5 1939.3,803.5 1940.7,805.8C1942.1,808.1 1943.2,811.9 1944.2,814.7C1945.3,817.5 1945.9,820.3 1947.0,822.6C1948.0,824.9 1949.4,828.0 1950.5,828.5C1951.6,829.0 1952.5,827.2 1953.5,825.5C1954.5,823.9 1956.0,819.8 1956.4,818.6" stroke="#00d08a" stroke-width="5" shape-rendering="crispEdges"/>
<path class="crv" d="M156.0,983.4C166.1,983.4 195.5,983.4 216.8,983.4C238.0,983.4 265.7,983.3 283.5,983.4C301.3,983.5 312.5,983.6 323.6,984.1C334.7,984.5 342.5,985.2 350.3,986.1C358.1,987.0 363.7,987.9 370.3,989.4C377.0,990.9 384.2,993.3 390.4,995.1C396.5,996.9 401.5,998.9 407.1,1000.1C412.6,1001.3 417.6,1001.6 423.7,1002.1C429.9,1002.6 438.8,1003.2 443.8,1003.1C448.8,1003.0 449.3,1002.8 453.8,1001.8C458.2,1000.7 464.4,998.1 470.5,996.8C476.6,995.4 482.7,994.4 490.5,993.4C498.3,992.4 507.2,991.6 517.2,990.7C527.2,989.9 538.5,989.0 550.6,988.4C562.7,987.9 580.1,987.7 590.0,987.4C599.9,987.1 602.8,986.6 610.0,986.4C617.3,986.2 626.7,985.9 633.4,986.4C640.1,986.9 645.1,988.6 650.1,989.4C655.1,990.2 659.8,990.4 663.4,991.1C667.1,991.7 669.5,992.0 671.8,993.4C674.1,994.8 675.8,996.6 677.5,999.4C679.1,1002.2 680.5,1006.4 681.8,1010.1C683.1,1013.8 684.0,1019.1 685.1,1021.8C686.3,1024.5 687.2,1026.4 688.5,1026.1C689.8,1025.9 691.5,1022.5 692.8,1020.1C694.1,1017.7 694.9,1013.4 696.2,1011.8C697.4,1010.1 698.8,1009.4 700.2,1010.1C701.5,1010.8 702.9,1013.1 704.2,1016.1C705.4,1019.2 706.4,1022.8 707.5,1028.5C708.6,1034.1 709.8,1042.1 710.8,1050.2C711.9,1058.2 712.6,1068.0 713.5,1076.9C714.4,1085.8 715.2,1094.7 716.2,1103.6C717.2,1112.5 718.4,1123.6 719.5,1130.3C720.6,1137.0 721.9,1137.5 722.9,1143.6C723.8,1149.8 724.4,1157.6 725.2,1167.0C726.0,1176.5 726.7,1188.7 727.5,1200.4C728.4,1212.1 729.4,1224.9 730.2,1237.1C731.0,1249.4 731.8,1264.4 732.5,1273.8C733.3,1283.3 733.8,1292.2 734.6,1293.9C735.3,1295.5 736.1,1290.5 736.9,1283.9C737.7,1277.2 738.7,1264.9 739.6,1253.8C740.4,1242.7 741.1,1229.3 741.9,1217.1C742.7,1204.8 743.6,1192.0 744.6,1180.4C745.5,1168.7 746.5,1157.6 747.6,1147.0C748.6,1136.4 749.8,1126.4 750.9,1116.9C752.0,1107.5 753.1,1096.8 754.2,1090.2C755.4,1083.7 756.8,1078.1 757.9,1077.5C759.1,1077.0 760.2,1082.0 761.3,1086.9C762.3,1091.8 763.3,1099.1 764.3,1106.9C765.2,1114.7 766.1,1123.6 766.9,1133.6C767.8,1143.6 768.6,1157.0 769.3,1167.0C769.9,1177.0 770.4,1187.3 770.9,1193.7C771.5,1200.1 772.0,1205.4 772.6,1205.4C773.2,1205.4 774.0,1200.7 774.6,1193.7C775.2,1186.8 775.7,1174.8 776.3,1163.7C776.8,1152.5 777.4,1139.2 778.0,1126.9C778.5,1114.7 779.0,1101.9 779.6,1090.2C780.3,1078.5 781.0,1066.9 782.0,1056.8C782.9,1046.8 784.0,1037.4 785.3,1030.1C786.6,1022.9 788.0,1018.2 789.6,1013.4C791.3,1008.7 793.0,1004.8 795.3,1001.8C797.6,998.7 800.0,996.8 803.7,995.1C807.3,993.4 810.9,992.4 817.0,991.7C823.1,991.1 830.9,991.4 840.4,991.1C849.8,990.8 862.6,990.6 873.8,990.1C884.9,989.5 896.0,988.3 907.1,987.7C918.3,987.2 929.4,987.1 940.5,986.7C951.7,986.3 962.8,985.7 973.9,985.4C985.0,985.1 998.0,985.1 1007.3,985.1C1016.6,985.0 1020.7,985.1 1030.0,985.1C1039.3,985.1 1053.4,985.5 1063.4,985.1C1073.4,984.7 1081.2,983.3 1090.1,982.7C1099.0,982.2 1109.6,982.2 1116.8,981.7C1124.0,981.3 1128.8,980.6 1133.5,980.1C1138.2,979.6 1141.8,978.6 1145.2,978.7C1148.5,978.8 1149.3,980.1 1153.5,980.7C1157.7,981.4 1164.1,982.4 1170.2,982.7C1176.3,983.1 1183.6,983.0 1190.2,982.7C1196.9,982.5 1203.6,981.7 1210.3,981.4C1216.9,981.1 1224.2,980.8 1230.3,980.7C1236.4,980.7 1241.4,980.7 1247.0,981.1C1252.6,981.4 1257.6,982.2 1263.7,982.7C1269.8,983.3 1277.0,983.8 1283.7,984.4C1290.4,985.0 1298.2,985.4 1303.7,986.1C1309.3,986.7 1313.2,987.3 1317.1,988.4C1321.0,989.5 1323.8,991.6 1327.1,992.7C1330.5,993.9 1333.8,994.3 1337.1,995.1C1340.5,995.9 1344.4,996.0 1347.1,997.4C1349.9,998.8 1352.0,1000.2 1353.8,1003.4C1355.6,1006.7 1356.7,1010.7 1357.8,1016.8C1358.9,1022.9 1359.7,1030.7 1360.5,1040.2C1361.3,1049.6 1362.1,1061.3 1362.8,1073.5C1363.6,1085.8 1364.2,1099.7 1364.8,1113.6C1365.5,1127.5 1366.0,1141.4 1366.5,1157.0C1367.1,1172.6 1367.6,1190.4 1368.2,1207.1C1368.7,1223.8 1369.3,1240.5 1369.8,1257.1C1370.4,1273.8 1371.0,1292.2 1371.5,1307.2C1372.1,1322.2 1372.6,1337.3 1373.2,1347.3C1373.7,1357.3 1374.3,1363.7 1374.9,1367.3C1375.4,1370.9 1376.0,1371.2 1376.5,1369.0C1377.1,1366.8 1377.6,1363.1 1378.2,1354.0C1378.8,1344.8 1379.3,1328.4 1379.9,1313.9C1380.4,1299.4 1380.9,1283.9 1381.5,1267.2C1382.2,1250.5 1383.1,1231.6 1383.9,1213.7C1384.6,1195.9 1385.4,1177.0 1386.2,1160.3C1387.0,1143.6 1387.9,1128.1 1388.9,1113.6C1389.9,1099.1 1391.1,1085.2 1392.2,1073.5C1393.3,1061.9 1394.3,1052.1 1395.6,1043.5C1396.8,1034.9 1398.4,1027.6 1399.9,1021.8C1401.4,1015.9 1402.9,1011.5 1404.6,1008.4C1406.2,1005.4 1408.1,1003.7 1409.9,1003.4C1411.7,1003.2 1413.5,1006.5 1415.6,1006.8C1417.6,1007.0 1419.8,1005.8 1422.3,1005.1C1424.8,1004.4 1428.5,1002.8 1430.6,1002.8C1432.7,1002.8 1433.0,1003.7 1434.6,1005.1C1436.2,1006.5 1438.9,1007.9 1440.0,1011.0C1441.1,1014.1 1440.6,1020.0 1441.1,1023.7C1441.5,1027.5 1442.0,1030.8 1442.7,1033.3C1443.3,1035.8 1444.1,1037.4 1444.8,1038.6C1445.5,1039.8 1446.2,1041.1 1446.9,1040.7C1447.6,1040.4 1448.4,1037.5 1449.0,1036.5C1449.6,1035.5 1449.9,1035.0 1450.6,1034.9C1451.3,1034.8 1452.6,1034.4 1453.3,1035.9C1454.0,1037.5 1454.4,1041.9 1454.9,1043.9C1455.3,1046.0 1455.7,1048.0 1456.1,1048.2C1456.6,1048.3 1457.1,1047.3 1457.5,1045.0C1457.9,1042.7 1458.2,1038.6 1458.6,1034.4C1458.9,1030.1 1459.3,1024.1 1459.7,1019.5C1460.0,1014.9 1460.4,1009.6 1460.9,1006.7C1461.5,1003.9 1462.1,1003.7 1462.8,1002.5C1463.6,1001.2 1464.5,1000.3 1465.5,999.3C1466.5,998.3 1467.4,997.3 1468.7,996.6C1469.9,996.0 1471.3,995.8 1472.9,995.6C1474.5,995.3 1476.5,995.1 1478.2,995.1C1480.0,995.0 1481.8,995.1 1483.6,995.3C1485.3,995.4 1487.1,995.8 1488.9,996.1C1490.6,996.5 1492.7,996.9 1494.2,997.4C1495.7,997.9 1496.8,998.5 1497.9,999.3C1499.0,1000.2 1499.8,1001.1 1500.5,1002.5C1501.3,1003.9 1501.9,1005.5 1502.5,1007.8C1503.0,1010.1 1503.3,1013.5 1503.7,1016.3C1504.2,1019.1 1504.6,1022.0 1505.0,1024.8C1505.5,1027.6 1505.9,1031.1 1506.4,1033.3C1506.9,1035.5 1507.4,1037.3 1508.0,1038.1C1508.6,1038.9 1509.4,1038.9 1509.9,1038.1C1510.4,1037.3 1510.8,1035.0 1511.2,1033.3C1511.6,1031.6 1511.8,1029.0 1512.2,1028.0C1512.7,1027.0 1513.3,1026.8 1513.8,1027.1C1514.3,1027.5 1514.9,1028.2 1515.2,1030.1C1515.6,1032.0 1515.7,1035.2 1515.9,1038.6C1516.2,1042.0 1516.4,1042.6 1516.7,1050.3C1517.0,1058.0 1517.2,1074.2 1517.5,1085.0C1517.9,1095.7 1518.4,1106.6 1519.0,1114.7C1519.6,1122.9 1520.3,1129.1 1521.2,1133.8C1522.0,1138.6 1523.1,1141.5 1523.9,1143.4C1524.7,1145.3 1525.3,1146.8 1526.0,1145.5C1526.7,1144.3 1527.5,1139.3 1528.2,1136.0C1528.9,1132.6 1529.4,1128.9 1530.3,1125.3C1531.2,1121.8 1532.6,1119.3 1533.5,1114.7C1534.4,1110.1 1534.9,1103.4 1535.6,1097.7C1536.3,1092.1 1537.0,1085.3 1537.7,1080.7C1538.4,1076.1 1539.1,1072.2 1539.8,1070.1C1540.6,1068.0 1541.6,1067.8 1542.4,1068.0C1543.2,1068.2 1543.8,1070.3 1544.5,1071.2C1545.2,1072.1 1545.9,1074.2 1546.6,1073.3C1547.4,1072.4 1548.0,1068.0 1548.8,1065.9C1549.6,1063.7 1550.4,1061.8 1551.5,1060.5C1552.7,1059.3 1554.5,1058.6 1555.8,1058.4C1557.0,1058.2 1558.0,1057.9 1559.0,1059.5C1559.9,1061.1 1560.7,1063.7 1561.5,1068.0C1562.3,1072.2 1562.9,1079.3 1563.6,1085.0C1564.4,1090.6 1565.1,1098.1 1565.8,1102.0C1566.4,1105.8 1566.8,1107.9 1567.5,1107.9C1568.1,1107.9 1568.9,1104.4 1569.6,1102.0C1570.3,1099.6 1570.8,1095.7 1571.7,1093.5C1572.6,1091.3 1573.8,1089.7 1574.9,1088.8C1576.0,1087.9 1576.9,1087.9 1578.1,1088.2C1579.3,1088.4 1580.7,1090.1 1581.9,1090.3C1583.2,1090.5 1584.3,1090.3 1585.5,1089.2C1586.7,1088.2 1588.0,1085.7 1589.1,1083.9C1590.3,1082.1 1591.5,1079.1 1592.5,1078.6C1593.6,1078.1 1594.6,1078.6 1595.5,1080.7C1596.5,1082.9 1597.3,1088.5 1598.3,1091.4C1599.2,1094.2 1599.8,1096.1 1601.0,1097.7C1602.3,1099.3 1604.2,1099.5 1605.7,1100.9C1607.2,1102.3 1608.7,1103.6 1610.0,1106.2C1611.2,1108.9 1612.1,1112.9 1613.1,1116.8C1614.2,1120.7 1615.3,1125.7 1616.3,1129.6C1617.4,1133.5 1618.4,1137.0 1619.5,1140.2C1620.6,1143.4 1622.2,1145.2 1623.1,1148.7C1624.1,1152.3 1624.6,1156.9 1625.3,1161.5C1625.9,1166.1 1626.4,1171.4 1626.9,1176.3C1627.5,1181.3 1628.0,1186.9 1628.6,1191.2C1629.3,1195.4 1629.8,1199.2 1630.8,1201.8C1631.7,1204.5 1633.3,1205.2 1634.4,1207.1C1635.5,1209.1 1636.6,1212.1 1637.6,1213.5C1638.5,1214.9 1639.2,1216.3 1640.1,1215.6C1641.0,1214.9 1642.1,1212.3 1642.9,1209.3C1643.7,1206.2 1644.2,1200.9 1645.0,1197.6C1645.8,1194.2 1646.7,1191.6 1647.8,1189.1C1648.8,1186.6 1650.1,1184.3 1651.4,1182.7C1652.7,1181.1 1654.2,1179.7 1655.6,1179.5C1657.0,1179.3 1658.7,1179.9 1659.9,1181.6C1661.0,1183.4 1661.8,1186.1 1662.6,1190.1C1663.5,1194.2 1664.1,1200.6 1664.8,1206.1C1665.5,1211.6 1666.2,1217.4 1666.9,1223.1C1667.6,1228.7 1668.6,1236.0 1669.0,1240.1C1669.5,1244.1 1669.3,1244.8 1669.6,1247.6C1669.9,1250.4 1670.3,1253.7 1670.7,1256.7C1671.1,1259.7 1671.5,1262.8 1671.9,1265.8C1672.2,1268.8 1672.7,1271.9 1673.0,1274.9C1673.4,1277.9 1673.7,1281.0 1674.0,1284.0C1674.3,1287.0 1674.6,1290.1 1674.9,1293.1C1675.2,1296.1 1675.7,1299.3 1676.0,1302.2C1676.4,1305.1 1676.8,1308.0 1677.2,1310.6C1677.6,1313.1 1677.9,1315.6 1678.3,1317.4C1678.8,1319.2 1679.3,1320.8 1679.8,1321.6C1680.3,1322.3 1680.9,1322.1 1681.4,1321.9C1681.8,1321.8 1682.1,1320.8 1682.5,1320.8C1682.9,1320.8 1683.2,1321.8 1683.6,1321.9C1684.1,1322.1 1684.7,1322.1 1685.1,1321.6C1685.6,1321.1 1686.0,1320.4 1686.3,1318.9C1686.6,1317.5 1686.8,1315.4 1687.0,1312.8C1687.3,1310.3 1687.5,1306.8 1687.8,1303.7C1688.1,1300.7 1688.3,1297.9 1688.6,1294.6C1688.8,1291.3 1689.2,1287.5 1689.5,1284.0C1689.8,1280.5 1690.0,1276.2 1690.5,1273.4C1690.9,1270.6 1691.7,1269.3 1692.4,1267.3C1693.0,1265.3 1693.9,1263.5 1694.6,1261.2C1695.3,1259.0 1696.0,1256.2 1696.5,1253.7C1697.0,1251.1 1697.3,1248.3 1697.7,1246.1C1698.0,1243.8 1698.2,1241.8 1698.4,1240.0C1698.6,1238.2 1698.3,1239.7 1698.7,1235.4C1699.1,1231.1 1700.1,1221.3 1700.8,1214.2C1701.5,1207.1 1702.2,1200.0 1702.9,1193.0C1703.7,1185.9 1704.7,1178.4 1705.5,1171.7C1706.3,1165.0 1706.9,1157.6 1707.6,1152.6C1708.3,1147.6 1708.9,1144.4 1709.7,1142.0C1710.6,1139.6 1711.9,1138.1 1712.9,1138.1C1714.0,1138.1 1715.1,1139.6 1716.1,1142.0C1717.2,1144.4 1718.2,1148.7 1719.3,1152.6C1720.4,1156.5 1721.5,1162.0 1722.5,1165.3C1723.4,1168.7 1724.2,1171.5 1725.0,1172.8C1725.9,1174.0 1726.9,1174.2 1727.8,1172.8C1728.7,1171.4 1729.6,1166.3 1730.6,1164.3C1731.5,1162.3 1732.5,1160.9 1733.5,1160.7C1734.6,1160.4 1735.8,1162.2 1736.9,1162.8C1738.1,1163.4 1739.4,1164.7 1740.5,1164.3C1741.7,1163.8 1742.7,1162.3 1743.7,1160.0C1744.8,1157.7 1745.9,1153.8 1746.9,1150.5C1748.0,1147.1 1749.0,1142.7 1750.1,1139.8C1751.2,1137.0 1752.1,1135.4 1753.3,1133.5C1754.5,1131.5 1755.9,1130.3 1757.5,1128.2C1759.1,1126.0 1761.3,1123.6 1762.9,1120.7C1764.4,1117.9 1765.7,1113.1 1767.1,1111.2C1768.5,1109.2 1770.0,1110.5 1771.4,1109.0C1772.7,1107.6 1773.9,1104.3 1775.2,1102.7C1776.4,1101.0 1777.5,1099.4 1778.8,1099.1C1780.1,1098.7 1781.6,1100.1 1783.0,1100.5C1784.5,1101.0 1786.1,1102.6 1787.3,1102.0C1788.5,1101.5 1789.2,1099.7 1790.0,1097.4C1790.9,1095.0 1791.5,1090.6 1792.6,1087.8C1793.7,1085.0 1795.0,1082.7 1796.4,1080.4C1797.8,1078.1 1799.6,1076.3 1801.1,1074.0C1802.6,1071.7 1804.0,1068.4 1805.3,1066.6C1806.7,1064.7 1807.9,1062.9 1809.2,1062.9C1810.4,1062.9 1811.6,1065.2 1812.8,1066.6C1813.9,1067.9 1814.8,1069.9 1816.0,1070.8C1817.2,1071.7 1819.1,1072.8 1820.0,1071.9C1820.9,1071.1 1820.9,1067.9 1821.5,1065.9C1822.1,1063.8 1822.7,1061.3 1823.4,1059.8C1824.1,1058.3 1824.9,1057.5 1825.7,1057.1C1826.5,1056.8 1827.4,1056.8 1828.3,1057.5C1829.3,1058.2 1830.5,1059.7 1831.4,1061.3C1832.3,1063.0 1832.9,1065.6 1833.7,1067.4C1834.4,1069.2 1835.2,1071.4 1835.9,1072.3C1836.7,1073.3 1837.5,1073.3 1838.2,1073.1C1839.0,1072.9 1839.7,1072.1 1840.5,1071.2C1841.2,1070.3 1841.9,1068.4 1842.8,1067.8C1843.6,1067.1 1844.7,1067.7 1845.8,1067.4C1846.9,1067.1 1848.3,1067.0 1849.6,1065.9C1850.9,1064.7 1852.1,1062.2 1853.4,1060.6C1854.6,1058.9 1856.0,1057.9 1857.2,1056.0C1858.3,1054.1 1859.2,1051.5 1860.2,1049.2C1861.2,1046.9 1862.2,1044.6 1863.2,1042.4C1864.3,1040.1 1865.3,1037.5 1866.3,1035.5C1867.3,1033.5 1868.3,1031.4 1869.3,1030.2C1870.3,1029.1 1871.3,1028.9 1872.4,1028.7C1873.4,1028.5 1874.4,1028.3 1875.4,1028.8C1876.4,1029.4 1877.5,1030.2 1878.4,1031.7C1879.3,1033.2 1880.0,1035.5 1880.7,1037.8C1881.4,1040.1 1882.0,1042.6 1882.6,1045.4C1883.2,1048.2 1883.7,1051.7 1884.1,1054.5C1884.6,1057.3 1884.8,1059.7 1885.3,1062.1C1885.7,1064.5 1886.1,1067.0 1886.8,1068.9C1887.4,1070.8 1888.3,1072.3 1889.0,1073.5C1889.8,1074.6 1890.6,1075.4 1891.3,1075.7C1892.0,1076.1 1892.6,1076.4 1893.2,1075.7C1893.8,1075.1 1894.5,1073.1 1895.1,1071.9C1895.7,1070.7 1896.0,1069.0 1896.6,1068.5C1897.3,1068.1 1898.2,1068.5 1898.9,1069.3C1899.6,1070.1 1900.1,1071.8 1900.8,1073.5C1901.5,1075.2 1902.3,1077.5 1903.1,1079.5C1903.9,1081.6 1905.0,1083.9 1905.7,1085.6C1906.5,1087.3 1906.7,1087.3 1907.6,1090.0C1908.5,1092.7 1910.1,1097.2 1911.1,1101.6C1912.1,1106.0 1912.9,1111.2 1913.7,1116.5C1914.5,1121.8 1915.2,1128.2 1915.8,1133.5C1916.4,1138.8 1917.0,1144.1 1917.5,1148.3C1918.0,1152.6 1918.5,1157.9 1919.0,1159.0C1919.5,1160.0 1920.1,1157.9 1920.7,1154.7C1921.3,1151.5 1921.9,1145.2 1922.6,1139.8C1923.3,1134.5 1924.0,1127.5 1924.7,1122.9C1925.4,1118.2 1926.2,1114.4 1926.9,1112.2C1927.6,1110.1 1928.3,1109.4 1929.0,1110.1C1929.7,1110.8 1930.5,1112.6 1931.1,1116.5C1931.7,1120.4 1932.3,1128.2 1932.8,1133.5C1933.3,1138.8 1933.9,1145.3 1934.3,1148.3C1934.7,1151.4 1935.0,1152.6 1935.4,1151.5C1935.7,1150.5 1936.2,1147.1 1936.6,1142.0C1937.0,1136.8 1937.3,1128.2 1937.7,1120.7C1938.0,1113.3 1938.2,1104.4 1938.8,1097.4C1939.3,1090.3 1940.1,1083.6 1940.9,1078.2C1941.7,1072.9 1942.5,1069.2 1943.4,1065.5C1944.4,1061.8 1945.5,1058.7 1946.6,1055.9C1947.7,1053.2 1949.0,1050.6 1950.2,1048.9C1951.5,1047.3 1952.9,1046.7 1954.1,1045.9C1955.2,1045.2 1956.7,1044.5 1957.2,1044.2" stroke="#b873ff" stroke-width="5" shape-rendering="crispEdges"/>
<line x1="520.0" y1="60.7" x2="516.4" y2="1301.3" stroke="#000" stroke-width="3" shape-rendering="crispEdges"/>
<line x1="441.3" y1="255.3" x2="442.7" y2="1276.9" stroke="#9933ff" stroke-width="3" shape-rendering="crispEdges"/>
<line x1="1375.4" y1="73.9" x2="1372.2" y2="1263.8" stroke="#9933ff" stroke-width="4.7" stroke-dasharray="22 7.3 6.5 7.25" shape-rendering="crispEdges"/>
<rect x="1531.5" y="70" width="223.0999999999999" height="1378.4" fill="none" stroke="#ff0000" stroke-width="5.1" stroke-dasharray="7 1.2 22.5 1.2 7 1.2 14.5 1.2" shape-rendering="crispEdges"/>
<text class="tick" x="154.5" y="1568.4" font-size="62">4000</text>
<text class="tick" x="423.6" y="1568.4" font-size="62">3500</text>
<text class="tick" x="692.6" y="1568.4" font-size="62">3000</text>
<text class="tick" x="961.7" y="1568.4" font-size="62">2500</text>
<text class="tick" x="1230.8" y="1568.4" font-size="62">2000</text>
<text class="tick" x="1499.8" y="1568.4" font-size="62">1500</text>
<text class="tick" x="1768.9" y="1568.4" font-size="62">1000</text>
<text class="lab" x="161.2" y="91.7" fill="#000" font-size="44.7" text-anchor="start">CNC_liof</text>
<text class="lab" x="160.6" y="275.3" fill="#0000ff" font-size="42.8" text-anchor="start">FD_CNC1</text>
<text class="lab" x="157.9" y="667.8" fill="#00d08a" font-size="43.1" text-anchor="start">SE_CNC1</text>
<text class="lab" x="169.3" y="1059.2" fill="#9933ff" font-size="42.9" text-anchor="start">NX9201</text>
<text class="lab" x="311.9" y="1177.4" fill="#9933ff" font-size="52.1" text-anchor="start">OH</text>
<text class="lab" x="239.2" y="1239.5" fill="#9933ff" font-size="52.07" text-anchor="start">@polyol</text>
<text class="lab" x="472.1" y="1349.7" fill="#000" font-size="52.1" text-anchor="start">OH</text>
<text class="lab" x="398.8" y="1410.4" fill="#000" font-size="51.8" text-anchor="start">@cellulose</text>
<text class="lab" x="1251.1" y="1298.9" fill="#9933ff" font-size="51.4" text-anchor="start">C=O</text>
<text class="lab" x="1236.9" y="1360" fill="#9933ff" font-size="50.9" text-anchor="start">Polyol</text>
<text class="ttl" x="1056.0" y="1695.7" font-size="74.6" letter-spacing="0.8">Wavenumber (cm<tspan dy="-32.0" font-size="47.5">-1</tspan><tspan dy="32.0">)</tspan></text>
</g>
<text x="1007" y="1911.5" font-family="'Liberation Serif', 'Times New Roman', serif" font-size="85.9" letter-spacing="-2.4" text-anchor="middle" fill="#000">(<tspan font-weight="bold">a</tspan>)</text>
<g id="chartB">
<rect x="90.1" y="2196.2" width="1937.7" height="1539.3000000000002" fill="none" stroke="#000" stroke-width="6.7" shape-rendering="crispEdges"/>
<path d="M90.1,3735.5V3766M668.5,3735.5V3766M1247.0,3735.5V3766M1825.4,3735.5V3766M379.3,3735.5V3751M957.8,3735.5V3751M1536.2,3735.5V3751" fill="none" stroke="#000" stroke-width="6.7" shape-rendering="crispEdges"/>
<path class="crv" d="M91.7,2256.1C100.9,2255.8 126.5,2255.0 146.8,2254.4C167.1,2253.9 196.8,2253.2 213.5,2252.8C230.2,2252.4 235.8,2252.1 246.9,2252.1C258.0,2252.1 271.4,2252.3 280.3,2252.8C289.2,2253.3 293.7,2253.9 300.3,2255.1C307.0,2256.3 313.7,2258.2 320.4,2260.1C327.0,2262.1 333.7,2264.0 340.4,2266.8C347.1,2269.6 353.7,2272.8 360.4,2276.8C367.1,2280.8 374.3,2285.8 380.5,2290.8C386.6,2295.8 391.6,2301.4 397.1,2306.8C402.7,2312.3 408.3,2317.9 413.8,2323.5C419.4,2329.2 425.0,2335.4 430.5,2340.9C436.1,2346.3 442.2,2351.1 447.2,2356.3C452.2,2361.4 457.0,2367.8 460.6,2371.9C464.2,2376.1 466.7,2379.1 468.9,2381.0C471.1,2382.8 472.3,2383.1 473.9,2383.0C475.6,2382.8 477.0,2381.6 478.9,2380.3C480.9,2379.0 482.6,2376.7 485.6,2375.3C488.7,2373.9 493.7,2373.6 497.3,2371.9C500.9,2370.3 504.5,2367.8 507.3,2365.3C510.1,2362.8 511.9,2359.5 514.0,2356.9C516.1,2354.3 516.8,2353.7 520.0,2349.6C523.2,2345.4 528.9,2337.3 533.4,2331.9C537.8,2326.4 542.3,2321.0 546.7,2316.9C551.2,2312.7 555.1,2310.2 560.1,2306.8C565.1,2303.5 570.6,2300.0 576.8,2296.8C582.9,2293.7 589.5,2290.6 596.8,2287.8C604.0,2285.0 612.4,2282.3 620.2,2280.1C627.9,2278.0 636.8,2276.4 643.5,2275.1C650.2,2273.9 655.5,2273.2 660.2,2272.8C664.9,2272.3 668.6,2272.1 671.9,2272.5C675.2,2272.8 677.7,2274.0 680.2,2275.1C682.7,2276.3 684.7,2278.5 686.9,2279.5C689.1,2280.4 691.1,2279.7 693.6,2280.8C696.1,2281.9 699.2,2284.6 701.9,2286.1C704.7,2287.7 708.1,2288.1 710.3,2290.2C712.5,2292.2 713.3,2296.2 715.3,2298.5C717.2,2300.8 719.7,2302.9 722.0,2304.2C724.2,2305.5 726.4,2306.3 728.6,2306.2C730.9,2306.1 732.8,2304.6 735.3,2303.5C737.8,2302.4 741.2,2300.6 743.7,2299.5C746.2,2298.4 748.2,2297.8 750.3,2296.8C752.5,2295.8 754.4,2295.2 756.4,2293.5C758.3,2291.8 759.7,2288.6 762.0,2286.8C764.4,2285.0 766.8,2283.9 770.4,2282.5C774.0,2281.1 778.2,2279.5 783.7,2278.5C789.3,2277.4 794.9,2277.0 803.8,2276.1C812.7,2275.3 826.0,2274.2 837.1,2273.5C848.3,2272.7 859.4,2272.5 870.5,2271.8C881.7,2271.1 892.8,2270.1 903.9,2269.5C915.0,2268.8 928.0,2268.5 937.3,2268.1C946.6,2267.8 950.7,2268.0 960.0,2267.5C969.3,2266.9 982.3,2265.8 993.4,2265.1C1004.5,2264.4 1016.8,2263.6 1026.8,2263.4C1036.8,2263.3 1047.9,2263.7 1053.5,2264.1C1059.0,2264.6 1057.4,2266.1 1060.2,2266.1C1062.9,2266.2 1066.6,2264.6 1070.2,2264.4C1073.8,2264.3 1076.8,2265.5 1081.9,2265.1C1086.9,2264.7 1093.3,2263.1 1100.2,2262.1C1107.2,2261.2 1116.1,2260.1 1123.6,2259.4C1131.1,2258.8 1140.6,2258.3 1145.3,2258.4C1150.0,2258.5 1150.2,2261.4 1152.0,2260.1C1153.7,2258.8 1154.0,2251.9 1156.0,2250.8C1157.9,2249.6 1160.7,2252.5 1163.6,2253.4C1166.6,2254.3 1170.3,2255.3 1173.7,2256.1C1177.0,2256.9 1179.8,2258.2 1183.7,2258.4C1187.6,2258.7 1193.1,2258.2 1197.0,2257.8C1200.9,2257.4 1203.4,2256.5 1207.0,2256.1C1210.7,2255.7 1215.4,2256.2 1218.7,2255.1C1222.1,2254.0 1224.3,2250.7 1227.1,2249.4C1229.9,2248.1 1232.6,2247.7 1235.4,2247.4C1238.2,2247.1 1241.0,2247.2 1243.8,2247.8C1246.5,2248.3 1249.9,2250.2 1252.1,2250.8C1254.3,2251.3 1255.4,2251.8 1257.1,2251.1C1258.8,2250.4 1260.2,2247.2 1262.1,2246.8C1264.1,2246.3 1266.3,2247.4 1268.8,2248.4C1271.3,2249.4 1273.5,2251.5 1277.1,2252.8C1280.8,2254.0 1285.5,2255.2 1290.5,2256.1C1295.5,2257.0 1300.0,2257.6 1307.2,2258.1C1314.4,2258.6 1325.0,2258.8 1333.9,2259.1C1342.8,2259.4 1351.7,2259.8 1360.6,2260.1C1369.5,2260.4 1380.7,2260.8 1387.3,2261.1C1393.9,2261.4 1395.6,2261.4 1400.0,2261.8C1404.4,2262.1 1409.5,2262.8 1413.7,2263.3C1417.8,2263.8 1421.6,2263.9 1425.0,2264.7C1428.5,2265.4 1431.5,2266.6 1434.1,2267.8C1436.8,2269.1 1438.7,2270.7 1441.0,2271.9C1443.2,2273.2 1445.5,2274.8 1447.8,2275.6C1450.1,2276.3 1452.0,2276.7 1454.6,2276.5C1457.3,2276.3 1460.7,2275.4 1463.7,2274.2C1466.8,2273.1 1469.4,2271.0 1472.8,2269.7C1476.3,2268.3 1480.0,2267.0 1484.2,2266.3C1488.4,2265.5 1492.9,2265.4 1497.9,2265.1C1502.8,2264.8 1508.9,2264.7 1513.8,2264.7C1518.7,2264.7 1523.7,2265.0 1527.5,2265.1C1531.3,2265.3 1534.1,2265.0 1536.6,2265.6C1539.0,2266.1 1540.6,2266.9 1542.3,2268.5C1544.0,2270.2 1545.1,2273.3 1546.8,2275.4C1548.5,2277.4 1550.8,2279.0 1552.5,2281.0C1554.2,2283.1 1555.6,2285.4 1557.1,2287.9C1558.5,2290.3 1559.6,2293.8 1561.2,2295.8C1562.7,2297.9 1564.6,2299.1 1566.2,2300.4C1567.8,2301.7 1569.5,2302.3 1570.7,2303.8C1571.9,2305.3 1572.6,2307.6 1573.4,2309.5C1574.3,2311.4 1575.0,2313.9 1575.7,2315.2C1576.5,2316.4 1577.1,2317.2 1578.0,2317.0C1578.9,2316.8 1580.1,2315.7 1581.0,2314.1C1581.8,2312.4 1582.3,2309.3 1583.2,2307.2C1584.2,2305.1 1585.1,2303.1 1586.6,2301.5C1588.2,2300.0 1590.6,2298.8 1592.3,2298.1C1594.0,2297.4 1595.6,2297.2 1596.9,2297.4C1598.2,2297.6 1599.2,2297.4 1600.3,2299.3C1601.4,2301.1 1602.8,2305.3 1603.7,2308.4C1604.7,2311.4 1605.2,2314.4 1606.0,2317.5C1606.8,2320.5 1607.5,2324.0 1608.3,2326.6C1609.0,2329.2 1609.6,2332.0 1610.5,2332.9C1611.5,2333.9 1612.6,2333.0 1614.0,2332.3C1615.3,2331.5 1617.2,2329.7 1618.5,2328.4C1619.8,2327.1 1621.0,2325.1 1621.9,2324.3C1622.9,2323.5 1623.4,2323.1 1624.2,2323.8C1625.0,2324.6 1625.7,2326.9 1626.5,2328.8C1627.2,2330.8 1627.9,2334.2 1628.8,2335.7C1629.6,2337.2 1630.8,2338.0 1631.7,2338.0C1632.7,2338.0 1633.5,2335.9 1634.4,2335.7C1635.4,2335.5 1636.3,2335.3 1637.2,2336.8C1638.0,2338.3 1638.7,2342.5 1639.5,2344.8C1640.2,2347.1 1641.0,2349.7 1641.7,2350.5C1642.5,2351.2 1643.2,2350.8 1644.0,2349.3C1644.8,2347.8 1645.5,2344.4 1646.3,2341.4C1647.0,2338.3 1647.7,2334.7 1648.6,2331.1C1649.4,2327.5 1650.5,2322.4 1651.5,2319.7C1652.5,2317.1 1653.5,2315.9 1654.5,2315.2C1655.5,2314.4 1656.6,2314.4 1657.7,2315.2C1658.7,2315.9 1659.6,2318.4 1660.6,2319.7C1661.6,2321.1 1662.3,2322.6 1663.6,2323.2C1664.9,2323.7 1666.6,2322.8 1668.6,2323.2C1670.6,2323.5 1673.1,2324.9 1675.4,2325.4C1677.7,2326.0 1679.9,2326.6 1682.2,2326.6C1684.6,2326.5 1687.4,2326.2 1689.6,2325.1C1691.7,2323.9 1693.3,2321.2 1695.0,2319.6C1696.7,2318.0 1698.3,2315.4 1699.7,2315.2C1701.0,2315.1 1702.2,2316.8 1703.2,2318.8C1704.3,2320.7 1705.0,2325.1 1705.9,2327.0C1706.9,2328.8 1707.6,2330.2 1708.7,2329.7C1709.7,2329.2 1711.2,2326.6 1712.2,2324.2C1713.3,2321.8 1714.0,2316.9 1715.0,2315.2C1716.0,2313.5 1717.2,2313.1 1718.2,2314.1C1719.2,2315.2 1720.1,2317.3 1721.0,2321.5C1721.9,2325.7 1722.9,2332.7 1723.7,2339.3C1724.5,2345.9 1725.2,2353.4 1725.9,2361.1C1726.6,2368.8 1727.2,2377.5 1727.8,2385.7C1728.4,2393.9 1729.1,2403.2 1729.7,2410.3C1730.3,2417.3 1730.8,2424.6 1731.4,2428.0C1731.9,2431.4 1732.5,2431.9 1733.3,2430.8C1734.0,2429.6 1735.1,2425.5 1736.0,2421.2C1736.9,2416.9 1737.8,2410.0 1738.7,2404.8C1739.6,2399.6 1740.4,2393.4 1741.5,2389.8C1742.5,2386.1 1743.9,2382.7 1745.0,2383.0C1746.1,2383.2 1747.3,2386.6 1748.3,2391.2C1749.3,2395.7 1750.1,2403.4 1751.0,2410.3C1751.9,2417.1 1752.9,2423.8 1753.7,2432.1C1754.6,2440.4 1755.6,2453.1 1756.2,2460.0C1756.8,2466.9 1757.1,2468.6 1757.6,2473.7C1758.0,2478.7 1758.5,2484.8 1758.9,2490.0C1759.4,2495.3 1759.8,2500.9 1760.3,2505.1C1760.8,2509.3 1761.4,2513.1 1762.1,2515.3C1762.7,2517.5 1763.3,2518.0 1764.0,2518.0C1764.7,2518.0 1765.5,2517.5 1766.2,2515.3C1766.8,2513.1 1767.5,2508.8 1768.1,2505.1C1768.7,2501.3 1769.2,2496.2 1769.8,2492.8C1770.5,2489.4 1771.2,2486.3 1771.9,2484.6C1772.6,2482.9 1773.3,2482.8 1773.9,2482.5C1774.6,2482.3 1775.3,2481.7 1776.0,2483.2C1776.7,2484.7 1777.4,2487.5 1778.0,2491.4C1778.7,2495.3 1779.4,2501.0 1780.1,2506.4C1780.8,2511.9 1781.5,2518.3 1782.1,2524.2C1782.8,2530.1 1783.3,2536.0 1783.9,2541.9C1784.5,2547.9 1785.0,2553.6 1785.6,2559.7C1786.1,2565.8 1786.7,2572.7 1787.2,2578.8C1787.7,2585.0 1788.2,2590.7 1788.7,2596.6C1789.2,2602.5 1789.5,2608.6 1789.9,2614.3C1790.3,2620.0 1790.7,2625.3 1791.0,2630.7C1791.4,2636.2 1791.7,2642.7 1792.0,2647.1C1792.3,2651.5 1792.5,2655.3 1792.8,2657.3C1793.1,2659.4 1793.6,2660.0 1794.0,2659.4C1794.5,2658.8 1794.9,2656.9 1795.4,2653.9C1795.8,2651.0 1796.3,2646.0 1796.8,2641.6C1797.2,2637.3 1797.7,2631.4 1798.1,2628.0C1798.6,2624.6 1799.0,2622.4 1799.5,2621.2C1799.9,2619.9 1800.4,2619.6 1800.8,2620.5C1801.3,2621.4 1801.8,2623.1 1802.2,2626.6C1802.7,2630.1 1803.1,2637.1 1803.6,2641.6C1804.0,2646.2 1804.5,2651.0 1804.9,2653.9C1805.4,2656.9 1805.8,2658.9 1806.3,2659.4C1806.8,2659.8 1807.5,2658.7 1808.1,2656.7C1808.7,2654.6 1809.2,2650.5 1809.9,2647.1C1810.5,2643.7 1810.9,2639.6 1811.8,2636.2C1812.6,2632.8 1813.9,2629.8 1814.9,2626.6C1816.0,2623.4 1817.1,2621.6 1818.1,2617.1C1819.0,2612.5 1819.4,2604.1 1820.4,2599.3C1821.3,2594.5 1822.5,2592.0 1823.8,2588.4C1825.0,2584.7 1826.4,2581.3 1827.9,2577.5C1829.4,2573.6 1831.4,2569.9 1832.7,2565.2C1833.9,2560.4 1834.7,2554.5 1835.4,2548.8C1836.1,2543.1 1836.4,2536.7 1836.8,2531.0C1837.2,2525.3 1837.4,2520.1 1837.7,2514.6C1838.0,2509.2 1838.2,2503.7 1838.5,2498.2C1838.8,2492.8 1839.2,2486.9 1839.5,2481.9C1839.8,2476.8 1839.7,2474.7 1840.5,2468.2C1841.2,2461.7 1842.8,2451.8 1843.9,2443.1C1845.0,2434.3 1846.0,2424.8 1847.2,2415.7C1848.3,2406.6 1849.4,2396.6 1850.7,2388.4C1852.0,2380.2 1853.4,2372.5 1854.8,2366.6C1856.2,2360.7 1857.3,2356.8 1858.9,2352.9C1860.5,2349.0 1862.5,2346.1 1864.4,2343.4C1866.2,2340.6 1868.1,2337.7 1869.8,2336.5C1871.5,2335.4 1872.9,2335.6 1874.5,2336.5C1876.1,2337.4 1877.9,2340.4 1879.4,2342.0C1880.9,2343.6 1882.1,2345.6 1883.5,2346.1C1884.9,2346.5 1886.4,2346.8 1887.6,2344.7C1888.8,2342.7 1889.7,2337.7 1890.9,2333.8C1892.0,2329.9 1892.9,2324.9 1894.4,2321.5C1895.9,2318.1 1897.8,2315.4 1899.9,2313.3C1901.9,2311.3 1904.4,2310.1 1906.7,2309.2C1909.0,2308.3 1911.5,2307.6 1913.5,2307.8C1915.6,2308.1 1916.9,2309.0 1919.0,2310.6C1921.0,2312.2 1923.6,2315.4 1925.8,2317.4C1928.1,2319.5 1930.4,2321.9 1932.7,2322.9C1934.9,2323.9 1936.8,2323.5 1939.5,2323.4C1942.2,2323.3 1945.9,2322.0 1949.0,2322.3C1952.2,2322.6 1955.6,2323.6 1958.6,2325.1C1961.6,2326.5 1964.1,2328.7 1966.8,2331.1C1969.5,2333.4 1972.7,2336.5 1975.0,2339.3C1977.3,2342.0 1978.9,2344.3 1980.5,2347.5C1982.0,2350.6 1983.2,2354.3 1984.6,2358.4C1985.9,2362.5 1987.1,2367.5 1988.6,2372.0C1990.2,2376.6 1991.8,2381.8 1994.1,2385.7C1996.4,2389.6 2000.0,2392.5 2002.3,2395.3C2004.6,2398.0 2006.3,2398.7 2007.8,2402.1C2009.2,2405.5 2010.0,2410.7 2011.0,2415.7C2012.0,2420.7 2012.9,2427.6 2013.8,2432.1C2014.7,2436.7 2015.6,2440.5 2016.5,2443.1C2017.4,2445.6 2018.3,2447.6 2019.2,2447.1C2020.2,2446.7 2021.2,2443.3 2022.0,2440.3C2022.8,2437.4 2023.8,2431.2 2024.2,2429.4" stroke="#000000" stroke-width="5" shape-rendering="crispEdges"/>
<path class="crv" d="M91.7,2572.5C98.1,2572.4 118.1,2572.2 130.1,2571.8C142.0,2571.4 153.4,2570.3 163.5,2570.1C173.5,2570.0 181.8,2570.5 190.2,2570.8C198.5,2571.1 205.7,2572.1 213.5,2571.8C221.3,2571.5 229.1,2569.0 236.9,2568.8C244.7,2568.6 253.0,2570.6 260.3,2570.8C267.5,2571.0 274.2,2570.0 280.3,2570.1C286.4,2570.3 290.3,2571.0 297.0,2571.8C303.7,2572.6 312.6,2573.8 320.4,2575.1C328.2,2576.5 335.9,2578.5 343.7,2580.2C351.5,2581.8 359.9,2583.8 367.1,2585.2C374.3,2586.5 380.5,2587.5 387.1,2588.2C393.8,2588.8 399.9,2589.1 407.2,2589.2C414.4,2589.3 422.7,2589.1 430.5,2588.8C438.3,2588.6 445.6,2587.9 453.9,2587.5C462.2,2587.1 472.8,2586.7 480.6,2586.2C488.4,2585.6 494.1,2584.7 500.6,2584.2C507.2,2583.6 512.3,2583.5 520.0,2582.8C527.7,2582.2 537.8,2580.9 546.7,2580.2C555.6,2579.4 565.1,2578.7 573.4,2578.1C581.8,2577.6 589.5,2577.0 596.8,2576.8C604.0,2576.6 610.7,2576.9 616.8,2577.1C622.9,2577.4 627.9,2578.1 633.5,2578.5C639.1,2578.8 646.3,2578.6 650.2,2579.2C654.1,2579.7 654.9,2580.7 656.9,2581.8C658.8,2583.0 660.5,2585.2 661.9,2586.2C663.3,2587.1 664.0,2587.8 665.2,2587.5C666.4,2587.2 667.8,2585.0 669.2,2584.2C670.6,2583.3 672.0,2582.0 673.6,2582.2C675.1,2582.3 677.0,2583.5 678.6,2585.2C680.1,2586.8 681.6,2588.8 682.9,2591.8C684.2,2594.9 685.2,2599.3 686.3,2603.5C687.3,2607.7 688.3,2613.0 689.3,2616.9C690.2,2620.8 690.9,2624.6 691.9,2626.9C692.9,2629.2 693.9,2630.1 695.3,2630.9C696.7,2631.7 699.0,2630.3 700.3,2631.9C701.6,2633.5 702.1,2636.6 702.9,2640.2C703.8,2643.9 704.5,2648.6 705.3,2653.6C706.1,2658.6 706.9,2665.3 707.6,2670.3C708.3,2675.3 708.9,2680.6 709.6,2683.6C710.3,2686.6 711.2,2688.3 712.0,2688.3C712.7,2688.3 713.5,2686.6 714.3,2683.6C715.1,2680.6 716.1,2675.0 717.0,2670.3C717.9,2665.6 718.6,2659.7 719.6,2655.3C720.6,2650.8 721.8,2646.9 723.0,2643.6C724.2,2640.2 725.5,2637.7 727.0,2635.2C728.5,2632.7 730.3,2630.2 732.0,2628.6C733.7,2626.9 735.4,2625.6 737.0,2625.6C738.6,2625.6 739.9,2627.5 741.3,2628.6C742.7,2629.6 744.2,2630.5 745.3,2631.9C746.5,2633.3 747.2,2634.4 748.0,2636.9C748.8,2639.4 749.6,2644.6 750.3,2646.9C751.1,2649.3 751.9,2651.5 752.7,2650.9C753.5,2650.4 754.5,2647.6 755.4,2643.6C756.2,2639.6 756.9,2632.7 757.7,2626.9C758.5,2621.0 759.3,2613.5 760.4,2608.5C761.5,2603.5 762.8,2599.9 764.4,2596.8C765.9,2593.8 767.6,2591.9 769.7,2590.2C771.8,2588.4 774.2,2587.3 777.1,2586.2C779.9,2585.0 782.6,2584.2 787.1,2583.5C791.5,2582.8 795.4,2582.5 803.8,2581.8C812.1,2581.2 826.6,2579.8 837.1,2579.5C847.7,2579.2 858.8,2580.2 867.2,2580.2C875.5,2580.1 878.3,2579.6 887.2,2579.2C896.1,2578.7 908.5,2577.9 920.6,2577.5C932.7,2577.0 947.9,2576.9 960.0,2576.5C972.1,2576.1 982.3,2575.5 993.4,2575.1C1004.5,2574.8 1017.3,2574.5 1026.8,2574.5C1036.2,2574.5 1044.9,2574.6 1050.1,2575.1C1055.4,2575.6 1055.7,2577.4 1058.5,2577.5C1061.3,2577.6 1063.2,2576.0 1066.8,2575.8C1070.4,2575.6 1074.6,2576.5 1080.2,2576.1C1085.7,2575.8 1093.5,2574.5 1100.2,2573.8C1106.9,2573.1 1114.1,2572.6 1120.2,2572.1C1126.4,2571.7 1133.0,2571.6 1136.9,2571.1C1140.8,2570.7 1141.4,2569.5 1143.6,2569.5C1145.8,2569.4 1148.3,2572.1 1150.3,2570.8C1152.2,2569.5 1153.3,2562.7 1155.3,2561.8C1157.2,2560.8 1159.5,2564.3 1162.0,2565.1C1164.5,2566.0 1167.3,2565.9 1170.3,2566.8C1173.4,2567.7 1176.4,2570.2 1180.3,2570.8C1184.2,2571.4 1189.2,2570.4 1193.7,2570.1C1198.1,2569.9 1202.6,2569.8 1207.0,2569.5C1211.5,2569.1 1216.6,2569.1 1220.4,2568.1C1224.2,2567.1 1226.4,2564.2 1229.7,2563.5C1233.1,2562.7 1237.0,2563.3 1240.4,2563.8C1243.9,2564.2 1247.7,2565.4 1250.4,2566.1C1253.2,2566.9 1255.0,2568.7 1257.1,2568.5C1259.2,2568.2 1260.9,2564.7 1263.1,2564.5C1265.4,2564.2 1267.0,2566.0 1270.5,2566.8C1273.9,2567.6 1279.4,2568.7 1283.8,2569.5C1288.3,2570.2 1293.3,2571.0 1297.2,2571.5C1301.1,2571.9 1301.1,2572.0 1307.2,2572.1C1313.3,2572.3 1325.6,2571.9 1333.9,2572.1C1342.2,2572.4 1350.6,2573.0 1357.3,2573.5C1363.9,2573.9 1370.2,2574.4 1374.0,2574.8C1377.7,2575.3 1378.4,2575.3 1380.0,2576.1C1381.6,2577.0 1382.5,2577.3 1383.6,2579.8C1384.8,2582.2 1385.9,2586.0 1386.8,2590.7C1387.7,2595.4 1388.4,2601.6 1389.2,2607.7C1390.0,2613.8 1390.8,2621.7 1391.7,2627.1C1392.5,2632.6 1393.3,2637.3 1394.1,2640.5C1394.9,2643.6 1395.6,2645.6 1396.5,2646.1C1397.4,2646.5 1398.5,2645.2 1399.4,2642.9C1400.4,2640.6 1401.3,2636.2 1402.3,2632.0C1403.3,2627.7 1404.4,2622.3 1405.5,2617.4C1406.6,2612.5 1407.7,2607.1 1409.1,2602.8C1410.6,2598.6 1412.2,2594.9 1414.0,2591.9C1415.8,2588.9 1417.8,2586.4 1420.1,2584.6C1422.3,2582.8 1424.7,2581.7 1427.3,2581.0C1430.0,2580.3 1433.0,2580.2 1435.8,2580.3C1438.7,2580.3 1441.7,2580.9 1444.3,2581.5C1447.0,2582.1 1449.6,2583.3 1451.6,2583.9C1453.6,2584.5 1454.7,2585.4 1456.5,2585.4C1458.3,2585.4 1460.9,2583.6 1462.5,2583.9C1464.2,2584.2 1465.2,2585.1 1466.2,2587.1C1467.2,2589.0 1467.8,2592.3 1468.6,2595.6C1469.4,2598.8 1470.0,2603.7 1471.0,2606.5C1472.1,2609.2 1473.5,2611.1 1474.7,2612.1C1475.9,2613.1 1477.1,2613.2 1478.3,2612.5C1479.5,2611.9 1480.9,2608.0 1482.0,2608.2C1483.1,2608.4 1484.1,2611.2 1484.9,2613.8C1485.7,2616.3 1486.2,2621.7 1486.8,2623.5C1487.4,2625.3 1487.9,2626.1 1488.5,2624.7C1489.1,2623.3 1489.9,2619.4 1490.5,2615.0C1491.1,2610.5 1491.4,2602.4 1492.2,2598.0C1493.0,2593.5 1494.0,2590.8 1495.3,2588.3C1496.7,2585.8 1498.4,2584.1 1500.2,2582.9C1502.0,2581.7 1503.8,2581.5 1506.3,2581.0C1508.7,2580.5 1511.7,2580.2 1514.7,2580.0C1517.8,2579.9 1521.6,2579.9 1524.5,2580.0C1527.3,2580.2 1529.7,2580.2 1531.7,2581.0C1533.8,2581.8 1535.4,2582.2 1536.6,2584.6C1537.8,2587.1 1538.2,2591.7 1539.0,2595.6C1539.8,2599.4 1540.6,2604.9 1541.5,2607.7C1542.3,2610.5 1543.1,2612.5 1543.9,2612.5C1544.7,2612.5 1545.5,2609.8 1546.3,2607.7C1547.1,2605.6 1547.9,2600.7 1548.7,2599.9C1549.5,2599.1 1550.5,2600.3 1551.2,2602.8C1551.9,2605.3 1552.3,2610.5 1552.9,2615.0C1553.4,2619.4 1553.7,2626.1 1554.3,2629.5C1555.0,2633.0 1555.7,2634.0 1556.8,2635.6C1557.8,2637.2 1559.4,2638.0 1560.9,2639.3C1562.4,2640.5 1564.4,2643.1 1565.7,2642.9C1567.1,2642.7 1567.9,2640.9 1568.9,2638.0C1569.9,2635.2 1570.9,2629.9 1571.8,2625.9C1572.7,2621.9 1573.3,2617.0 1574.2,2613.8C1575.1,2610.5 1576.1,2608.1 1577.1,2606.5C1578.2,2604.9 1579.2,2604.1 1580.3,2604.1C1581.4,2604.1 1582.5,2605.3 1583.9,2606.5C1585.4,2607.7 1587.2,2609.9 1588.8,2611.3C1590.4,2612.8 1592.0,2614.3 1593.7,2615.0C1595.3,2615.7 1597.0,2615.5 1598.5,2615.5C1600.1,2615.4 1601.8,2614.0 1602.9,2614.5C1604.0,2615.0 1604.6,2617.1 1605.3,2618.6C1606.0,2620.1 1606.2,2623.5 1607.0,2623.5C1607.8,2623.5 1609.0,2620.4 1610.2,2618.6C1611.4,2616.8 1612.8,2614.0 1614.3,2612.5C1615.8,2611.1 1617.7,2610.0 1619.2,2609.6C1620.6,2609.2 1621.5,2609.6 1622.8,2610.1C1624.1,2610.6 1625.7,2612.5 1627.2,2612.5C1628.6,2612.6 1629.8,2611.2 1631.3,2610.6C1632.8,2610.0 1634.7,2608.7 1636.1,2608.9C1637.6,2609.2 1638.6,2610.8 1639.8,2612.1C1641.0,2613.3 1642.0,2614.9 1643.4,2616.2C1644.8,2617.5 1646.7,2618.6 1648.3,2619.8C1649.9,2621.0 1651.5,2622.2 1653.1,2623.5C1654.8,2624.8 1656.4,2626.3 1658.0,2627.6C1659.6,2628.9 1661.4,2629.9 1662.9,2631.5C1664.3,2633.0 1665.4,2634.3 1666.5,2636.8C1667.6,2639.3 1668.5,2643.1 1669.4,2646.5C1670.3,2650.0 1671.0,2654.6 1671.8,2657.5C1672.6,2660.4 1673.5,2662.8 1674.3,2664.0C1675.1,2665.2 1675.8,2665.6 1676.7,2664.7C1677.6,2663.9 1678.9,2661.1 1679.8,2658.7C1680.8,2656.3 1681.3,2652.4 1682.3,2650.2C1683.3,2648.0 1684.7,2647.1 1685.9,2645.3C1687.1,2643.5 1688.1,2640.9 1689.6,2639.3C1691.0,2637.6 1692.7,2635.6 1694.4,2635.6C1696.1,2635.7 1698.3,2637.3 1699.7,2639.6C1701.0,2641.9 1701.5,2645.5 1702.4,2649.2C1703.3,2652.8 1704.2,2658.5 1705.1,2661.5C1706.0,2664.4 1706.9,2666.5 1707.9,2666.9C1708.8,2667.4 1709.7,2665.6 1710.6,2664.2C1711.5,2662.8 1712.3,2659.4 1713.3,2658.7C1714.4,2658.0 1715.7,2658.0 1716.9,2660.1C1718.1,2662.1 1719.3,2666.5 1720.4,2671.0C1721.6,2675.6 1722.6,2681.5 1723.7,2687.4C1724.8,2693.3 1726.0,2700.2 1727.0,2706.5C1728.0,2712.9 1728.9,2719.7 1729.7,2725.6C1730.5,2731.6 1731.1,2738.2 1731.9,2742.0C1732.7,2745.9 1733.3,2746.8 1734.6,2748.9C1736.0,2750.9 1738.3,2752.5 1740.1,2754.3C1741.9,2756.1 1743.5,2758.2 1745.6,2759.8C1747.6,2761.4 1750.1,2762.5 1752.4,2763.9C1754.7,2765.3 1757.2,2766.2 1759.2,2768.0C1761.3,2769.8 1763.1,2771.9 1764.7,2774.8C1766.3,2777.8 1767.4,2782.1 1768.8,2785.7C1770.1,2789.4 1771.7,2792.6 1772.9,2796.7C1774.0,2800.8 1774.7,2805.8 1775.6,2810.3C1776.5,2814.9 1777.3,2819.9 1778.3,2824.0C1779.3,2828.1 1780.5,2831.5 1781.6,2834.9C1782.7,2838.3 1783.9,2841.0 1785.2,2844.5C1786.4,2847.9 1788.0,2852.4 1789.3,2855.4C1790.5,2858.3 1791.5,2860.6 1792.5,2862.2C1793.5,2863.8 1794.4,2865.2 1795.3,2864.9C1796.2,2864.7 1797.1,2862.9 1798.0,2860.8C1798.9,2858.8 1799.7,2855.6 1800.7,2852.7C1801.8,2849.7 1803.1,2845.8 1804.3,2843.1C1805.5,2840.4 1806.7,2838.1 1807.8,2836.3C1809.0,2834.4 1810.0,2834.7 1811.1,2832.2C1812.2,2829.7 1813.2,2825.3 1814.4,2821.2C1815.5,2817.1 1816.8,2812.4 1817.9,2807.6C1819.1,2802.8 1820.3,2796.9 1821.5,2792.6C1822.6,2788.2 1823.5,2786.0 1824.8,2781.6C1826.0,2777.3 1827.7,2772.3 1828.9,2766.6C1830.0,2760.9 1830.7,2753.9 1831.6,2747.5C1832.5,2741.1 1833.4,2734.3 1834.3,2728.4C1835.2,2722.5 1836.1,2715.9 1837.1,2712.0C1838.0,2708.1 1838.6,2706.8 1839.8,2705.2C1840.9,2703.6 1842.7,2703.1 1843.9,2702.4C1845.1,2701.7 1846.2,2702.7 1847.2,2701.1C1848.2,2699.5 1849.0,2696.3 1849.9,2692.9C1850.8,2689.5 1851.6,2684.2 1852.6,2680.6C1853.7,2676.9 1854.9,2673.3 1856.2,2671.0C1857.5,2668.7 1859.0,2667.6 1860.3,2666.9C1861.5,2666.2 1862.4,2665.9 1863.6,2666.9C1864.7,2668.0 1865.9,2670.2 1867.1,2673.2C1868.3,2676.2 1869.5,2680.9 1870.7,2684.7C1871.8,2688.4 1872.8,2692.8 1873.9,2695.6C1875.0,2698.4 1876.1,2700.8 1877.2,2701.6C1878.3,2702.4 1879.6,2701.1 1880.8,2700.5C1881.9,2700.0 1883.2,2697.6 1884.3,2698.3C1885.4,2699.1 1886.7,2702.2 1887.6,2705.2C1888.5,2708.1 1889.0,2713.5 1889.8,2716.1C1890.6,2718.7 1891.5,2720.1 1892.5,2720.7C1893.5,2721.3 1894.7,2721.1 1895.8,2719.6C1896.9,2718.2 1897.9,2713.9 1899.1,2712.0C1900.2,2710.1 1901.2,2708.9 1902.6,2708.4C1904.0,2708.0 1905.7,2709.8 1907.3,2709.3C1908.8,2708.7 1910.4,2706.7 1912.2,2705.2C1913.9,2703.7 1915.8,2701.4 1917.6,2700.2C1919.5,2699.1 1921.3,2698.3 1923.1,2698.3C1924.9,2698.4 1926.7,2699.4 1928.6,2700.5C1930.4,2701.7 1932.2,2703.8 1934.0,2705.2C1935.8,2706.5 1937.9,2707.9 1939.5,2708.7C1941.1,2709.5 1942.3,2708.9 1943.6,2709.8C1944.9,2710.7 1946.0,2713.0 1947.1,2714.2C1948.3,2715.4 1949.2,2717.3 1950.4,2716.9C1951.6,2716.5 1953.1,2714.4 1954.5,2712.0C1955.9,2709.6 1957.2,2705.6 1958.6,2702.4C1960.0,2699.2 1961.3,2695.8 1962.7,2692.9C1964.1,2689.9 1965.6,2687.4 1966.8,2684.7C1968.0,2681.9 1968.8,2678.5 1970.1,2676.5C1971.4,2674.4 1973.1,2672.9 1974.4,2672.4C1975.8,2671.8 1977.0,2672.4 1978.3,2673.2C1979.5,2674.0 1980.6,2675.1 1981.8,2677.0C1983.0,2678.9 1984.2,2682.9 1985.4,2684.7C1986.5,2686.5 1987.6,2687.9 1988.6,2688.0C1989.7,2688.0 1990.8,2685.7 1991.9,2685.2C1993.1,2684.8 1994.5,2683.5 1995.5,2685.2C1996.4,2686.9 1997.0,2690.7 1997.7,2695.6C1998.3,2700.5 1999.0,2708.8 1999.6,2714.7C2000.2,2720.6 2000.7,2727.5 2001.2,2731.1C2001.8,2734.7 2002.2,2736.8 2002.9,2736.6C2003.5,2736.3 2004.3,2733.6 2005.0,2729.7C2005.8,2725.9 2006.4,2719.0 2007.2,2713.4C2008.0,2707.7 2009.0,2701.1 2010.0,2695.6C2011.0,2690.1 2012.0,2684.9 2013.2,2680.6C2014.5,2676.3 2016.0,2672.5 2017.3,2669.7C2018.7,2666.8 2020.1,2665.2 2021.4,2663.4C2022.8,2661.5 2024.8,2659.5 2025.5,2658.7" stroke="#0000ff" stroke-width="5" shape-rendering="crispEdges"/>
<path class="crv" d="M91.7,2837.8C99.8,2837.7 122.6,2837.3 140.1,2837.1C157.6,2836.9 179.6,2836.9 196.8,2836.8C214.1,2836.6 231.9,2836.0 243.6,2836.1C255.3,2836.2 259.2,2836.9 266.9,2837.5C274.7,2838.0 282.5,2838.5 290.3,2839.5C298.1,2840.5 306.5,2841.7 313.7,2843.5C320.9,2845.2 327.0,2847.5 333.7,2850.1C340.4,2852.8 347.1,2856.1 353.7,2859.2C360.4,2862.2 367.7,2865.4 373.8,2868.5C379.9,2871.6 384.9,2874.3 390.5,2877.5C396.0,2880.7 401.6,2884.3 407.2,2887.5C412.7,2890.8 418.3,2893.8 423.9,2896.9C429.4,2900.0 435.5,2903.2 440.5,2906.2C445.6,2909.3 450.0,2912.6 453.9,2915.2C457.8,2917.9 461.4,2920.4 463.9,2921.9C466.4,2923.4 467.3,2924.2 468.9,2924.2C470.6,2924.2 472.3,2923.7 473.9,2921.9C475.6,2920.1 477.0,2915.9 478.9,2913.6C480.9,2911.2 482.6,2909.4 485.6,2907.9C488.7,2906.3 493.7,2905.9 497.3,2904.2C500.9,2902.5 504.5,2899.6 507.3,2897.5C510.1,2895.5 511.9,2893.8 514.0,2891.9C516.1,2890.0 516.8,2888.7 520.0,2886.2C523.2,2883.7 528.3,2879.8 533.4,2876.8C538.4,2873.9 543.9,2871.0 550.0,2868.5C556.2,2866.0 562.8,2863.6 570.1,2861.8C577.3,2860.0 585.7,2858.6 593.4,2857.8C601.2,2856.9 609.6,2856.9 616.8,2856.8C624.0,2856.7 631.8,2856.7 636.8,2857.1C641.9,2857.6 644.1,2858.1 646.9,2859.5C649.6,2860.8 651.6,2862.9 653.5,2865.1C655.5,2867.4 657.0,2870.9 658.5,2872.8C660.1,2874.8 661.2,2876.7 662.9,2876.8C664.6,2876.9 666.9,2874.0 668.6,2873.5C670.2,2872.9 671.5,2872.5 672.9,2873.5C674.3,2874.5 675.7,2876.7 676.9,2879.5C678.1,2882.3 679.2,2885.6 680.2,2890.2C681.2,2894.7 682.1,2900.2 682.9,2906.9C683.7,2913.5 684.5,2922.4 685.3,2930.2C686.0,2938.0 686.8,2945.3 687.6,2953.6C688.4,2961.9 689.3,2972.5 690.3,2980.3C691.3,2988.1 692.4,2994.8 693.6,3000.3C694.8,3005.9 696.5,3009.2 697.6,3013.7C698.7,3018.1 699.4,3020.9 700.3,3027.0C701.1,3033.2 701.8,3042.1 702.6,3050.4C703.4,3058.8 704.2,3068.2 704.9,3077.1C705.7,3086.0 706.5,3095.8 707.3,3103.8C708.1,3111.9 708.9,3120.6 709.6,3125.5C710.3,3130.4 710.9,3132.9 711.6,3133.2C712.3,3133.5 713.2,3131.5 714.0,3127.2C714.7,3122.9 715.5,3115.0 716.3,3107.2C717.1,3099.4 717.9,3089.9 718.6,3080.5C719.4,3071.0 720.1,3060.4 721.0,3050.4C721.8,3040.4 722.6,3029.8 723.6,3020.4C724.6,3010.9 725.8,3002.0 727.0,2993.7C728.2,2985.3 729.7,2976.1 731.0,2970.3C732.3,2964.4 733.5,2960.8 734.7,2958.6C735.8,2956.4 736.6,2955.8 737.7,2956.9C738.7,2958.0 740.0,2960.8 741.0,2965.3C742.0,2969.7 742.8,2976.7 743.7,2983.6C744.6,2990.6 745.5,2999.8 746.3,3007.0C747.2,3014.2 747.9,3022.5 748.7,3027.0C749.5,3031.6 750.2,3034.4 751.0,3034.4C751.9,3034.4 752.9,3032.2 753.7,3027.0C754.5,3021.9 755.3,3013.1 756.0,3003.7C756.7,2994.2 757.3,2982.0 758.0,2970.3C758.8,2958.6 759.5,2944.7 760.4,2933.6C761.2,2922.4 761.9,2911.9 763.0,2903.5C764.1,2895.2 765.3,2888.8 767.0,2883.5C768.8,2878.2 770.9,2875.0 773.7,2871.8C776.5,2868.6 779.3,2866.3 783.7,2864.1C788.2,2862.0 793.2,2860.0 800.4,2858.8C807.7,2857.6 817.1,2857.7 827.1,2856.8C837.1,2855.9 850.5,2854.6 860.5,2853.4C870.5,2852.3 878.3,2851.2 887.2,2850.1C896.1,2849.0 901.8,2847.8 913.9,2847.1C926.1,2846.4 946.8,2846.4 960.0,2845.8C973.2,2845.1 982.3,2843.8 993.4,2843.1C1004.5,2842.5 1018.4,2841.9 1026.8,2841.8C1035.1,2841.7 1036.2,2842.7 1043.5,2842.5C1050.7,2842.2 1061.8,2841.2 1070.2,2840.5C1078.5,2839.7 1085.7,2839.0 1093.5,2838.1C1101.3,2837.2 1110.2,2836.1 1116.9,2835.1C1123.6,2834.2 1128.9,2833.1 1133.6,2832.4C1138.3,2831.8 1142.2,2832.1 1145.3,2831.4C1148.3,2830.8 1149.5,2828.9 1152.0,2828.4C1154.5,2827.9 1157.8,2827.9 1160.3,2828.4C1162.8,2829.0 1164.2,2830.8 1167.0,2831.8C1169.8,2832.7 1173.1,2833.5 1177.0,2834.1C1180.9,2834.7 1185.9,2835.6 1190.3,2835.4C1194.8,2835.3 1199.3,2834.2 1203.7,2833.4C1208.2,2832.7 1213.2,2832.2 1217.1,2830.8C1221.0,2829.4 1223.7,2826.3 1227.1,2825.1C1230.4,2823.9 1234.3,2823.8 1237.1,2823.8C1239.9,2823.7 1241.3,2824.2 1243.8,2824.8C1246.3,2825.3 1249.3,2826.8 1252.1,2827.1C1254.9,2827.4 1258.0,2826.0 1260.5,2826.4C1263.0,2826.8 1264.9,2828.3 1267.1,2829.4C1269.4,2830.6 1270.5,2832.2 1273.8,2833.4C1277.1,2834.7 1282.2,2835.8 1287.2,2836.8C1292.2,2837.8 1298.3,2838.8 1303.9,2839.5C1309.4,2840.1 1315.0,2840.3 1320.5,2840.8C1326.1,2841.3 1332.2,2841.6 1337.2,2842.5C1342.2,2843.3 1346.7,2844.6 1350.6,2845.8C1354.5,2847.0 1357.5,2848.4 1360.6,2849.5C1363.7,2850.5 1366.2,2851.9 1369.0,2852.1C1371.7,2852.4 1375.5,2851.0 1377.3,2851.1C1379.1,2851.2 1378.8,2852.4 1380.0,2852.8C1381.2,2853.2 1383.1,2852.5 1384.4,2853.5C1385.7,2854.5 1386.6,2856.1 1387.8,2858.8C1389.0,2861.6 1390.3,2866.3 1391.7,2869.8C1393.0,2873.2 1394.3,2876.4 1395.8,2879.5C1397.3,2882.5 1399.0,2885.8 1400.6,2888.0C1402.3,2890.1 1403.9,2891.1 1405.5,2892.4C1407.1,2893.6 1408.9,2894.4 1410.3,2895.8C1411.8,2897.1 1412.8,2899.1 1414.0,2900.6C1415.2,2902.1 1416.4,2904.2 1417.6,2905.0C1418.8,2905.7 1420.2,2906.2 1421.3,2905.0C1422.4,2903.8 1423.2,2900.3 1424.2,2897.7C1425.2,2895.1 1426.2,2891.8 1427.3,2889.2C1428.5,2886.6 1429.7,2883.7 1431.0,2881.9C1432.3,2880.2 1433.5,2879.2 1435.4,2878.8C1437.2,2878.3 1439.6,2878.8 1441.9,2879.0C1444.2,2879.2 1446.8,2879.3 1449.2,2880.0C1451.6,2880.7 1454.1,2882.4 1456.5,2883.1C1458.9,2883.9 1461.7,2883.5 1463.8,2884.3C1465.8,2885.1 1467.2,2886.8 1468.6,2888.0C1470.0,2889.2 1471.0,2890.8 1472.3,2891.6C1473.5,2892.4 1474.5,2892.8 1475.9,2892.8C1477.3,2892.9 1479.3,2892.5 1480.8,2892.1C1482.3,2891.7 1483.7,2891.7 1484.9,2890.4C1486.1,2889.1 1486.9,2887.0 1488.0,2884.3C1489.2,2881.7 1490.5,2877.9 1491.7,2874.6C1492.9,2871.4 1494.1,2867.3 1495.3,2864.9C1496.5,2862.5 1497.1,2861.3 1499.0,2860.1C1500.8,2858.8 1503.4,2858.0 1506.3,2857.6C1509.1,2857.2 1512.7,2857.4 1516.0,2857.6C1519.2,2857.8 1523.0,2858.2 1525.7,2858.8C1528.3,2859.5 1530.0,2859.9 1531.7,2861.3C1533.4,2862.7 1534.7,2864.7 1535.9,2867.3C1537.1,2870.0 1538.0,2874.3 1539.0,2877.1C1540.1,2879.8 1541.0,2881.8 1542.2,2883.6C1543.4,2885.4 1545.2,2885.2 1546.3,2888.0C1547.4,2890.7 1548.0,2895.3 1548.7,2900.1C1549.5,2905.0 1550.1,2911.0 1550.7,2917.1C1551.3,2923.2 1551.8,2929.7 1552.4,2936.5C1553.0,2943.4 1553.7,2951.5 1554.3,2958.4C1554.9,2965.3 1555.4,2971.7 1556.0,2977.8C1556.6,2983.9 1557.3,2990.7 1558.0,2994.8C1558.7,2998.9 1559.4,3002.2 1560.2,3002.6C1560.9,3003.0 1561.6,3000.2 1562.6,2997.2C1563.5,2994.3 1564.7,2989.5 1565.7,2985.1C1566.8,2980.6 1567.7,2975.4 1568.9,2970.5C1570.1,2965.7 1571.5,2960.4 1573.0,2956.0C1574.5,2951.5 1576.3,2946.7 1577.9,2943.8C1579.5,2941.0 1581.1,2940.0 1582.7,2939.0C1584.4,2938.0 1586.2,2938.8 1587.6,2937.8C1589.0,2936.7 1590.0,2934.6 1591.2,2932.9C1592.4,2931.2 1593.7,2928.4 1594.9,2927.6C1596.0,2926.7 1597.1,2926.5 1598.0,2928.0C1599.0,2929.5 1599.6,2932.7 1600.5,2936.5C1601.3,2940.4 1602.1,2945.8 1602.9,2951.1C1603.7,2956.4 1604.5,2963.7 1605.3,2968.1C1606.1,2972.6 1606.7,2976.0 1607.5,2977.8C1608.3,2979.6 1609.2,2979.8 1610.2,2979.0C1611.1,2978.2 1612.1,2975.4 1613.1,2973.0C1614.1,2970.5 1614.9,2966.3 1616.0,2964.5C1617.1,2962.6 1618.5,2962.2 1619.9,2962.0C1621.2,2961.9 1622.8,2963.3 1624.0,2963.7C1625.2,2964.1 1626.1,2964.9 1627.2,2964.5C1628.3,2964.0 1629.3,2961.9 1630.6,2960.8C1631.8,2959.7 1633.2,2957.9 1634.4,2957.9C1635.7,2957.9 1636.6,2959.0 1637.8,2960.8C1639.1,2962.6 1640.5,2966.4 1641.7,2968.6C1642.9,2970.8 1643.8,2973.2 1645.1,2974.2C1646.4,2975.1 1648.2,2974.2 1649.5,2974.2C1650.8,2974.2 1651.8,2973.4 1653.1,2974.2C1654.4,2975.0 1655.9,2976.6 1657.3,2979.0C1658.7,2981.5 1660.2,2985.1 1661.6,2988.7C1663.1,2992.4 1664.6,2996.6 1666.0,3000.9C1667.4,3005.1 1668.8,3010.0 1670.1,3014.2C1671.5,3018.5 1672.9,3022.5 1674.3,3026.4C1675.6,3030.2 1676.9,3034.3 1678.1,3037.3C1679.4,3040.3 1680.5,3042.8 1681.5,3044.6C1682.6,3046.3 1684.0,3047.4 1684.7,3047.7C1685.4,3048.1 1685.2,3047.9 1686.0,3046.5C1686.8,3045.2 1688.4,3042.7 1689.6,3039.7C1690.7,3036.7 1691.9,3031.5 1693.1,3028.8C1694.3,3026.0 1695.7,3023.3 1696.9,3023.3C1698.2,3023.3 1699.4,3024.9 1700.5,3028.8C1701.5,3032.6 1702.3,3039.9 1703.2,3046.5C1704.1,3053.1 1705.0,3062.9 1705.9,3068.4C1706.9,3073.8 1707.5,3077.3 1708.7,3079.3C1709.8,3081.4 1711.4,3080.3 1712.8,3080.7C1714.1,3081.0 1715.7,3079.9 1716.9,3081.5C1718.0,3083.1 1718.7,3085.6 1719.6,3090.2C1720.5,3094.9 1721.4,3102.5 1722.3,3109.3C1723.2,3116.2 1724.2,3123.9 1725.1,3131.2C1726.0,3138.5 1726.9,3147.1 1727.8,3153.1C1728.7,3159.0 1729.5,3163.7 1730.5,3166.7C1731.6,3169.7 1732.9,3170.9 1734.1,3170.8C1735.3,3170.7 1736.7,3167.2 1737.9,3166.2C1739.1,3165.2 1740.3,3163.8 1741.5,3164.8C1742.6,3165.8 1743.9,3169.1 1745.0,3172.2C1746.1,3175.2 1747.2,3179.0 1748.3,3183.1C1749.4,3187.2 1750.6,3191.7 1751.6,3196.8C1752.6,3201.8 1753.4,3207.7 1754.3,3213.1C1755.2,3218.6 1756.1,3224.3 1757.0,3229.5C1757.9,3234.8 1758.7,3240.9 1759.8,3244.6C1760.8,3248.2 1762.0,3250.7 1763.3,3251.4C1764.6,3252.1 1766.0,3249.9 1767.4,3248.6C1768.8,3247.4 1770.1,3243.7 1771.5,3243.7C1772.9,3243.7 1774.2,3246.0 1775.6,3248.6C1777.0,3251.3 1778.4,3255.0 1779.7,3259.6C1781.0,3264.1 1782.2,3269.6 1783.2,3276.0C1784.3,3282.3 1785.1,3290.1 1786.0,3297.8C1786.8,3305.6 1787.7,3314.7 1788.4,3322.4C1789.2,3330.1 1789.9,3338.7 1790.6,3344.2C1791.3,3349.8 1791.9,3354.4 1792.5,3355.7C1793.2,3357.1 1794.0,3355.7 1794.7,3352.4C1795.4,3349.2 1796.0,3341.1 1796.9,3336.1C1797.8,3331.0 1799.0,3325.4 1800.2,3322.4C1801.4,3319.4 1802.9,3319.0 1804.3,3318.3C1805.6,3317.6 1807.1,3319.4 1808.4,3318.3C1809.6,3317.2 1810.5,3314.9 1811.7,3311.5C1812.8,3308.1 1813.8,3301.9 1815.2,3297.8C1816.6,3293.7 1818.5,3290.1 1819.8,3286.9C1821.2,3283.7 1822.2,3282.8 1823.4,3278.7C1824.6,3274.6 1825.9,3268.7 1826.9,3262.3C1828.0,3255.9 1828.9,3248.6 1829.7,3240.5C1830.5,3232.3 1831.0,3223.2 1831.6,3213.1C1832.2,3203.1 1832.8,3191.3 1833.5,3180.4C1834.2,3169.4 1834.9,3158.5 1835.7,3147.6C1836.5,3136.7 1837.4,3124.8 1838.4,3114.8C1839.4,3104.8 1840.6,3095.7 1841.7,3087.5C1842.8,3079.3 1844.1,3072.9 1845.3,3065.6C1846.4,3058.4 1847.7,3051.5 1848.8,3043.8C1849.9,3036.1 1851.0,3026.9 1852.1,3019.2C1853.2,3011.5 1854.2,3003.3 1855.4,2997.4C1856.5,2991.4 1857.6,2987.1 1858.9,2983.7C1860.2,2980.3 1861.6,2978.3 1863.0,2976.9C1864.4,2975.4 1865.3,2975.0 1867.1,2975.0C1868.9,2975.0 1871.4,2976.6 1873.9,2976.9C1876.4,2977.1 1879.8,2975.9 1882.1,2976.3C1884.4,2976.8 1886.1,2977.7 1887.6,2979.6C1889.0,2981.5 1889.7,2985.8 1890.9,2987.8C1892.0,2989.8 1893.1,2992.1 1894.4,2991.9C1895.7,2991.7 1897.1,2989.2 1898.5,2986.4C1899.9,2983.7 1901.2,2979.2 1902.6,2975.5C1904.0,2971.9 1905.1,2967.3 1906.7,2964.6C1908.3,2961.9 1910.3,2961.0 1912.2,2959.1C1914.0,2957.2 1915.8,2954.8 1917.6,2953.1C1919.5,2951.4 1921.5,2948.9 1923.1,2948.7C1924.7,2948.6 1925.8,2949.9 1927.2,2952.3C1928.6,2954.7 1929.7,2959.1 1931.3,2963.2C1932.9,2967.3 1934.9,2972.5 1936.8,2976.9C1938.6,2981.2 1940.4,2985.8 1942.2,2989.2C1944.0,2992.6 1946.1,2995.8 1947.7,2997.4C1949.3,2999.0 1950.4,2999.0 1951.8,2998.7C1953.1,2998.5 1954.4,2997.1 1955.9,2996.0C1957.4,2994.9 1959.2,2991.9 1960.8,2991.9C1962.4,2991.9 1963.7,2993.5 1965.4,2996.0C1967.1,2998.5 1969.2,3002.8 1970.9,3006.9C1972.6,3011.0 1974.2,3015.6 1975.5,3020.6C1976.9,3025.6 1977.9,3031.3 1979.1,3037.0C1980.3,3042.7 1981.5,3050.2 1982.6,3054.7C1983.8,3059.3 1984.7,3062.2 1985.9,3064.3C1987.1,3066.3 1988.7,3066.3 1990.0,3067.0C1991.3,3067.7 1992.5,3066.6 1993.6,3068.4C1994.6,3070.2 1995.3,3074.3 1996.3,3077.9C1997.3,3081.6 1998.6,3087.5 1999.6,3090.2C2000.6,3093.0 2001.4,3094.6 2002.3,3094.3C2003.2,3094.1 2004.1,3091.8 2005.0,3088.9C2005.9,3085.9 2006.8,3080.9 2007.8,3076.6C2008.8,3072.2 2009.8,3066.1 2011.0,3062.9C2012.3,3059.7 2013.9,3059.5 2015.4,3057.5C2016.9,3055.4 2018.7,3053.8 2020.1,3050.6C2021.4,3047.4 2022.5,3042.0 2023.6,3038.3C2024.7,3034.7 2026.3,3030.4 2026.9,3028.8" stroke="#00c8c8" stroke-width="5" shape-rendering="crispEdges"/>
<path class="crv" d="M91.7,3251.8C100.9,3251.6 126.5,3251.0 146.8,3250.8C167.1,3250.6 194.1,3250.5 213.5,3250.4C233.0,3250.4 250.8,3250.2 263.6,3250.4C276.4,3250.7 282.5,3251.0 290.3,3251.8C298.1,3252.6 303.7,3253.6 310.3,3255.1C317.0,3256.7 323.7,3258.9 330.4,3261.1C337.1,3263.3 344.3,3266.4 350.4,3268.5C356.5,3270.5 361.5,3272.1 367.1,3273.5C372.7,3274.9 378.8,3276.1 383.8,3276.8C388.8,3277.5 392.7,3277.6 397.1,3277.5C401.6,3277.4 404.9,3277.1 410.5,3276.1C416.1,3275.2 423.3,3273.3 430.5,3271.8C437.8,3270.4 445.6,3269.0 453.9,3267.5C462.2,3266.0 472.8,3263.9 480.6,3262.8C488.4,3261.7 494.1,3261.5 500.6,3260.8C507.2,3260.1 512.3,3259.2 520.0,3258.8C527.7,3258.3 537.8,3258.3 546.7,3258.1C555.6,3257.9 567.9,3257.9 573.4,3257.4C579.0,3256.9 577.3,3255.6 580.1,3255.1C582.9,3254.5 586.2,3254.0 590.1,3254.1C594.0,3254.1 599.3,3254.5 603.5,3255.4C607.6,3256.3 612.1,3257.8 615.1,3259.4C618.2,3261.0 619.3,3263.8 621.8,3265.1C624.3,3266.4 627.1,3266.9 630.2,3267.4C633.2,3268.0 637.1,3267.2 640.2,3268.4C643.2,3269.7 646.2,3272.9 648.5,3275.1C650.9,3277.3 652.7,3278.5 654.2,3281.8C655.7,3285.1 656.5,3290.7 657.5,3295.1C658.5,3299.6 659.2,3305.4 660.2,3308.5C661.2,3311.6 662.4,3313.8 663.6,3313.5C664.7,3313.2 665.8,3310.4 666.9,3306.8C668.0,3303.2 669.0,3295.7 670.2,3291.8C671.5,3287.9 672.8,3284.0 674.2,3283.5C675.6,3282.9 677.1,3285.1 678.6,3288.5C680.0,3291.8 681.6,3297.6 682.9,3303.5C684.2,3309.3 685.2,3316.3 686.3,3323.5C687.3,3330.8 688.3,3339.7 689.3,3346.9C690.2,3354.1 690.9,3361.6 691.9,3366.9C692.9,3372.2 694.2,3374.7 695.3,3378.6C696.4,3382.5 697.7,3385.0 698.6,3390.3C699.5,3395.6 700.2,3402.0 700.9,3410.3C701.7,3418.7 702.2,3429.8 702.9,3440.4C703.7,3450.9 704.5,3462.6 705.3,3473.7C706.1,3484.9 706.9,3496.0 707.6,3507.1C708.3,3518.3 709.0,3531.1 709.6,3540.5C710.2,3550.0 710.8,3558.3 711.3,3563.9C711.8,3569.4 712.1,3573.9 712.6,3573.9C713.1,3573.9 713.7,3570.6 714.3,3563.9C714.9,3557.2 715.6,3544.4 716.3,3533.8C717.0,3523.3 717.9,3512.1 718.6,3500.5C719.4,3488.8 720.0,3476.0 721.0,3463.7C721.9,3451.5 723.2,3437.6 724.3,3427.0C725.4,3416.4 726.5,3408.1 727.6,3400.3C728.8,3392.5 729.8,3386.4 731.0,3380.3C732.2,3374.2 733.4,3367.5 734.7,3363.6C735.9,3359.7 737.3,3356.9 738.7,3356.9C740.0,3356.9 741.4,3360.5 742.7,3363.6C744.0,3366.6 745.3,3369.1 746.3,3375.3C747.3,3381.4 748.0,3390.6 748.7,3400.3C749.3,3410.0 749.8,3423.1 750.3,3433.7C750.9,3444.3 751.5,3457.1 752.0,3463.7C752.6,3470.4 753.1,3474.3 753.7,3473.7C754.2,3473.2 754.8,3468.2 755.4,3460.4C755.9,3452.6 756.5,3439.3 757.0,3427.0C757.6,3414.8 758.0,3400.3 758.7,3386.9C759.4,3373.6 760.2,3358.6 761.0,3346.9C761.9,3335.2 762.6,3325.7 763.7,3316.8C764.8,3307.9 766.2,3299.9 767.7,3293.5C769.3,3287.1 770.9,3282.6 773.1,3278.5C775.2,3274.3 777.5,3270.9 780.4,3268.4C783.3,3265.9 786.5,3264.7 790.4,3263.4C794.3,3262.2 797.6,3261.6 803.8,3261.1C809.9,3260.5 818.8,3260.4 827.1,3260.1C835.5,3259.8 843.8,3259.9 853.8,3259.4C863.9,3259.0 876.1,3258.0 887.2,3257.4C898.4,3256.9 908.5,3256.5 920.6,3256.1C932.7,3255.7 947.9,3255.4 960.0,3255.1C972.1,3254.8 982.3,3254.6 993.4,3254.4C1004.5,3254.2 1015.6,3254.2 1026.8,3254.1C1037.9,3253.9 1050.7,3254.0 1060.2,3253.4C1069.6,3252.9 1075.7,3251.3 1083.5,3250.7C1091.3,3250.2 1098.5,3250.3 1106.9,3250.1C1115.2,3249.9 1126.9,3249.8 1133.6,3249.4C1140.3,3249.0 1143.4,3248.4 1146.9,3247.7C1150.5,3247.1 1151.8,3245.5 1154.6,3245.7C1157.4,3246.0 1159.9,3248.2 1163.6,3249.1C1167.4,3249.9 1172.0,3250.6 1177.0,3250.7C1182.0,3250.9 1187.0,3250.2 1193.7,3250.1C1200.4,3250.0 1210.9,3250.5 1217.1,3250.1C1223.2,3249.6 1226.0,3247.9 1230.4,3247.4C1234.9,3246.9 1239.3,3247.1 1243.8,3247.1C1248.2,3247.1 1252.7,3247.2 1257.1,3247.4C1261.6,3247.6 1266.6,3247.8 1270.5,3248.4C1274.4,3249.0 1276.6,3250.2 1280.5,3251.1C1284.4,3251.9 1288.8,3253.1 1293.8,3253.4C1298.8,3253.7 1305.0,3252.7 1310.5,3252.7C1316.1,3252.7 1321.7,3252.7 1327.2,3253.4C1332.8,3254.1 1338.4,3255.8 1343.9,3256.8C1349.5,3257.7 1356.2,3258.1 1360.6,3259.1C1365.1,3260.1 1367.8,3260.9 1370.6,3262.8C1373.4,3264.6 1375.7,3268.6 1377.3,3270.1C1378.9,3271.6 1379.1,3269.3 1380.0,3271.6C1380.9,3273.8 1381.6,3278.0 1382.4,3283.7C1383.2,3289.4 1384.1,3297.1 1384.9,3305.6C1385.6,3314.1 1386.2,3324.6 1386.8,3334.7C1387.4,3344.8 1387.9,3355.3 1388.5,3366.3C1389.1,3377.2 1389.7,3388.9 1390.2,3400.2C1390.7,3411.6 1391.2,3422.9 1391.7,3434.2C1392.1,3445.6 1392.5,3456.9 1392.9,3468.2C1393.3,3479.6 1393.7,3491.7 1394.1,3502.2C1394.5,3512.7 1394.9,3522.4 1395.3,3531.4C1395.7,3540.3 1396.1,3549.2 1396.5,3555.6C1396.9,3562.1 1397.3,3567.4 1397.7,3570.2C1398.1,3573.0 1398.5,3573.8 1398.9,3572.6C1399.3,3571.4 1399.7,3567.8 1400.2,3562.9C1400.6,3558.1 1401.0,3550.8 1401.4,3543.5C1401.8,3536.2 1402.2,3528.1 1402.6,3519.2C1403.0,3510.3 1403.3,3500.2 1403.8,3490.1C1404.2,3480.0 1404.7,3469.4 1405.3,3458.5C1405.8,3447.6 1406.5,3435.9 1407.2,3424.5C1407.9,3413.2 1408.8,3401.1 1409.6,3390.5C1410.4,3380.0 1411.1,3371.1 1412.0,3361.4C1413.0,3351.7 1414.2,3340.8 1415.2,3332.3C1416.3,3323.8 1417.3,3316.9 1418.4,3310.4C1419.5,3303.9 1420.5,3298.3 1421.8,3293.4C1423.1,3288.6 1424.6,3284.4 1426.1,3281.3C1427.7,3278.1 1429.3,3276.1 1431.0,3274.5C1432.7,3272.9 1434.8,3272.0 1436.3,3271.6C1437.9,3271.1 1439.0,3271.0 1440.2,3271.6C1441.4,3272.2 1442.3,3274.0 1443.6,3275.2C1444.9,3276.4 1446.5,3277.6 1448.0,3278.8C1449.4,3280.1 1451.1,3281.1 1452.4,3282.5C1453.6,3283.9 1454.8,3287.1 1455.8,3287.3C1456.7,3287.5 1457.4,3284.7 1458.2,3283.7C1459.0,3282.7 1459.8,3281.3 1460.6,3281.3C1461.4,3281.3 1462.3,3281.7 1463.0,3283.7C1463.8,3285.7 1464.3,3288.6 1465.0,3293.4C1465.6,3298.3 1466.3,3305.6 1466.9,3312.8C1467.5,3320.1 1468.1,3329.0 1468.6,3337.1C1469.1,3345.2 1469.3,3353.7 1469.8,3361.4C1470.4,3369.1 1471.0,3377.6 1471.8,3383.2C1472.5,3388.9 1473.5,3391.3 1474.2,3395.4C1474.9,3399.4 1475.3,3404.5 1475.9,3407.5C1476.5,3410.6 1477.0,3414.4 1477.6,3413.6C1478.2,3412.8 1478.9,3406.1 1479.5,3402.7C1480.2,3399.2 1480.8,3393.4 1481.5,3393.0C1482.2,3392.6 1483.1,3395.8 1483.7,3400.2C1484.2,3404.7 1484.5,3412.4 1484.9,3419.7C1485.3,3426.9 1485.7,3437.1 1486.1,3443.9C1486.5,3450.8 1486.9,3459.3 1487.3,3460.9C1487.7,3462.6 1488.1,3458.9 1488.5,3453.7C1488.9,3448.4 1489.4,3438.3 1489.7,3429.4C1490.1,3420.5 1490.4,3410.0 1490.7,3400.2C1491.0,3390.5 1491.4,3380.8 1491.7,3371.1C1492.0,3361.4 1492.1,3351.3 1492.4,3342.0C1492.7,3332.7 1493.1,3323.4 1493.6,3315.3C1494.1,3307.2 1494.5,3299.5 1495.3,3293.4C1496.1,3287.3 1497.3,3282.5 1498.5,3278.8C1499.7,3275.2 1501.1,3273.3 1502.6,3271.6C1504.1,3269.9 1505.6,3269.3 1507.5,3268.6C1509.3,3268.0 1511.3,3267.8 1513.5,3267.9C1515.8,3268.0 1518.6,3268.5 1520.8,3269.1C1523.0,3269.7 1525.2,3270.4 1526.9,3271.6C1528.6,3272.7 1529.9,3273.9 1531.0,3275.9C1532.1,3278.0 1532.7,3280.4 1533.4,3283.7C1534.2,3287.0 1534.8,3290.6 1535.4,3295.8C1536.0,3301.1 1536.6,3308.4 1537.1,3315.3C1537.6,3322.1 1537.9,3329.0 1538.3,3337.1C1538.7,3345.2 1539.3,3355.7 1539.8,3363.8C1540.2,3371.9 1540.5,3378.8 1541.0,3385.7C1541.5,3392.6 1542.1,3400.8 1542.7,3405.1C1543.2,3409.3 1543.6,3412.0 1544.1,3411.2C1544.6,3410.4 1545.1,3406.9 1545.6,3400.2C1546.0,3393.6 1546.4,3380.0 1546.8,3371.1C1547.2,3362.2 1547.6,3352.2 1548.0,3346.8C1548.5,3341.5 1548.9,3339.9 1549.5,3339.1C1550.0,3338.2 1550.7,3338.7 1551.2,3342.0C1551.7,3345.3 1552.0,3352.5 1552.4,3359.0C1552.8,3365.4 1553.2,3373.1 1553.6,3380.8C1554.0,3388.5 1554.4,3397.4 1554.8,3405.1C1555.3,3412.8 1555.5,3421.3 1556.3,3426.9C1557.1,3432.6 1558.8,3433.8 1559.7,3439.1C1560.6,3444.4 1561.0,3452.4 1561.6,3458.5C1562.3,3464.6 1562.9,3470.9 1563.6,3475.5C1564.2,3480.2 1565.0,3485.6 1565.7,3486.4C1566.4,3487.2 1567.1,3484.2 1567.7,3480.4C1568.3,3476.5 1568.8,3470.2 1569.4,3463.4C1569.9,3456.5 1570.5,3448.0 1571.1,3439.1C1571.7,3430.2 1572.4,3418.9 1573.0,3410.0C1573.7,3401.1 1574.3,3393.4 1575.0,3385.7C1575.6,3378.0 1576.4,3369.7 1577.1,3363.8C1577.9,3358.0 1578.6,3353.2 1579.6,3350.5C1580.5,3347.7 1581.7,3347.9 1582.7,3347.3C1583.8,3346.7 1585.0,3348.5 1585.9,3346.8C1586.8,3345.1 1587.6,3339.2 1588.3,3337.1C1589.0,3335.0 1589.4,3333.8 1590.3,3334.2C1591.1,3334.6 1592.2,3337.8 1593.2,3339.5C1594.1,3341.2 1595.0,3343.2 1596.1,3344.4C1597.2,3345.6 1598.6,3346.1 1599.7,3346.8C1600.9,3347.6 1602.0,3347.4 1602.9,3348.8C1603.8,3350.2 1604.6,3353.6 1605.3,3355.3C1606.0,3357.0 1606.2,3359.0 1607.0,3359.0C1607.8,3359.0 1609.0,3356.2 1610.2,3355.3C1611.4,3354.4 1613.0,3354.3 1614.3,3353.6C1615.6,3352.9 1616.7,3351.1 1617.9,3351.2C1619.2,3351.3 1620.2,3353.1 1621.6,3354.1C1623.0,3355.1 1624.6,3356.2 1626.4,3357.0C1628.3,3357.8 1630.8,3358.6 1632.5,3359.0C1634.2,3359.4 1635.7,3357.8 1636.9,3359.5C1638.0,3361.1 1638.5,3364.3 1639.3,3368.7C1640.1,3373.1 1640.9,3382.0 1641.7,3385.7C1642.5,3389.4 1643.1,3390.3 1644.2,3391.0C1645.3,3391.7 1647.1,3389.9 1648.3,3390.0C1649.5,3390.2 1650.5,3389.2 1651.4,3391.7C1652.4,3394.3 1653.1,3400.0 1653.9,3405.1C1654.7,3410.2 1655.5,3417.2 1656.3,3422.1C1657.1,3426.9 1657.6,3431.3 1658.7,3434.2C1659.8,3437.1 1661.6,3437.1 1662.9,3439.6C1664.1,3442.0 1665.1,3444.0 1666.0,3448.8C1666.9,3453.6 1667.7,3460.9 1668.4,3468.2C1669.1,3475.5 1669.6,3483.6 1670.1,3492.5C1670.7,3501.4 1671.3,3511.9 1671.8,3521.6C1672.4,3531.4 1672.8,3541.9 1673.3,3550.8C1673.7,3559.7 1674.1,3568.6 1674.5,3575.1C1674.9,3581.5 1675.2,3587.2 1675.7,3589.6C1676.2,3592.0 1676.9,3591.6 1677.4,3589.6C1678.0,3587.6 1678.5,3582.7 1679.1,3577.5C1679.7,3572.2 1680.3,3564.5 1681.1,3558.1C1681.8,3551.6 1682.6,3545.1 1683.5,3538.6C1684.4,3532.2 1685.4,3525.7 1686.4,3519.2C1687.4,3512.7 1688.6,3504.7 1689.6,3499.8C1690.5,3494.8 1691.2,3494.4 1692.3,3489.4C1693.4,3484.5 1694.9,3476.7 1696.4,3470.3C1697.9,3463.9 1699.8,3456.2 1701.3,3451.2C1702.8,3446.2 1703.9,3442.5 1705.1,3440.3C1706.4,3438.0 1707.5,3437.1 1708.7,3437.5C1709.9,3438.0 1711.1,3439.8 1712.2,3443.0C1713.4,3446.2 1714.4,3451.2 1715.5,3456.7C1716.6,3462.1 1717.8,3468.5 1718.8,3475.8C1719.8,3483.1 1720.7,3492.2 1721.5,3500.4C1722.3,3508.6 1723.0,3515.8 1723.7,3524.9C1724.4,3534.1 1725.1,3545.4 1725.9,3555.0C1726.7,3564.6 1727.6,3574.1 1728.3,3582.3C1729.1,3590.5 1729.9,3596.4 1730.5,3604.2C1731.1,3611.9 1731.4,3620.5 1731.9,3628.7C1732.4,3636.9 1732.8,3647.5 1733.3,3653.3C1733.7,3659.2 1734.2,3663.7 1734.6,3663.7C1735.1,3663.7 1735.5,3658.7 1736.0,3653.3C1736.4,3648.0 1736.8,3638.8 1737.4,3631.5C1738.0,3624.2 1738.6,3615.1 1739.5,3609.6C1740.5,3604.2 1741.7,3601.9 1742.8,3598.7C1743.9,3595.5 1745.2,3594.6 1746.1,3590.5C1747.0,3586.4 1747.6,3581.4 1748.3,3574.1C1749.0,3566.8 1749.8,3556.4 1750.5,3546.8C1751.2,3537.2 1751.7,3526.3 1752.4,3516.8C1753.0,3507.2 1753.6,3498.5 1754.3,3489.4C1755.0,3480.3 1755.7,3469.9 1756.5,3462.1C1757.3,3454.4 1758.3,3447.3 1759.2,3443.0C1760.1,3438.7 1760.9,3437.1 1761.9,3436.2C1762.9,3435.3 1764.1,3436.4 1765.2,3437.5C1766.4,3438.7 1767.5,3441.2 1768.8,3443.0C1770.0,3444.8 1771.8,3445.3 1772.9,3448.5C1773.9,3451.7 1774.2,3457.1 1775.1,3462.1C1775.9,3467.1 1776.9,3474.8 1777.8,3478.5C1778.7,3482.2 1779.5,3484.5 1780.5,3484.5C1781.5,3484.5 1782.8,3479.5 1783.8,3478.5C1784.8,3477.5 1785.7,3476.7 1786.5,3478.5C1787.3,3480.3 1788.0,3484.0 1788.7,3489.4C1789.4,3494.9 1790.0,3504.0 1790.6,3511.3C1791.3,3518.6 1791.9,3526.3 1792.5,3533.1C1793.2,3540.0 1794.0,3548.2 1794.7,3552.3C1795.4,3556.4 1796.2,3558.6 1796.9,3557.7C1797.6,3556.8 1798.4,3551.8 1799.1,3546.8C1799.8,3541.8 1800.4,3535.4 1801.0,3527.7C1801.6,3519.9 1802.2,3509.9 1802.9,3500.4C1803.6,3490.8 1804.4,3479.9 1805.1,3470.3C1805.8,3460.8 1806.2,3451.2 1807.0,3443.0C1807.8,3434.8 1808.7,3426.8 1809.7,3421.2C1810.8,3415.5 1811.9,3411.7 1813.3,3408.9C1814.7,3406.0 1816.3,3404.9 1817.9,3404.2C1819.6,3403.5 1822.0,3403.5 1823.4,3404.8C1824.8,3406.0 1825.4,3409.4 1826.1,3411.6C1826.9,3413.8 1827.4,3417.6 1828.0,3417.9C1828.7,3418.1 1829.5,3416.1 1830.2,3413.0C1831.0,3409.9 1831.6,3403.9 1832.4,3399.3C1833.2,3394.7 1834.1,3389.7 1835.1,3385.6C1836.2,3381.5 1837.6,3377.7 1839.0,3374.7C1840.3,3371.8 1841.8,3369.6 1843.3,3367.9C1844.8,3366.2 1846.6,3364.3 1848.0,3364.3C1849.3,3364.3 1850.4,3366.2 1851.5,3367.9C1852.7,3369.6 1853.6,3373.2 1854.8,3374.7C1856.0,3376.2 1857.6,3377.4 1858.9,3376.9C1860.2,3376.4 1861.3,3373.6 1862.5,3372.0C1863.6,3370.3 1864.6,3367.3 1865.7,3367.1C1866.8,3366.8 1868.0,3368.0 1869.0,3370.6C1870.0,3373.3 1870.9,3377.7 1871.7,3382.9C1872.6,3388.1 1873.3,3396.6 1873.9,3402.0C1874.6,3407.5 1875.0,3412.7 1875.6,3415.7C1876.1,3418.6 1876.6,3420.7 1877.2,3419.8C1877.8,3418.9 1878.7,3415.9 1879.4,3410.2C1880.1,3404.5 1880.8,3392.9 1881.6,3385.6C1882.3,3378.4 1882.9,3370.3 1883.8,3366.5C1884.6,3362.8 1885.5,3363.2 1886.5,3363.2C1887.5,3363.2 1888.8,3364.2 1889.8,3366.5C1890.8,3368.9 1891.6,3373.4 1892.5,3377.5C1893.4,3381.5 1894.3,3387.5 1895.2,3391.1C1896.1,3394.7 1897.1,3398.8 1898.0,3399.3C1898.9,3399.8 1899.8,3396.6 1900.7,3393.8C1901.6,3391.1 1902.4,3386.6 1903.4,3382.9C1904.4,3379.3 1905.3,3375.4 1906.7,3372.0C1908.1,3368.6 1910.3,3366.1 1911.6,3362.4C1912.9,3358.8 1913.4,3355.4 1914.4,3350.1C1915.3,3344.9 1916.1,3336.7 1917.1,3331.0C1918.1,3325.3 1919.1,3319.9 1920.4,3316.0C1921.6,3312.1 1922.9,3309.8 1924.5,3307.8C1926.1,3305.8 1928.1,3304.7 1929.9,3303.7C1931.7,3302.7 1933.9,3301.3 1935.4,3301.5C1936.9,3301.7 1937.9,3302.4 1938.9,3305.1C1940.0,3307.7 1940.9,3311.7 1941.7,3317.4C1942.4,3323.1 1942.9,3331.0 1943.6,3339.2C1944.2,3347.4 1944.9,3357.0 1945.5,3366.5C1946.1,3376.1 1946.5,3386.6 1947.1,3396.6C1947.7,3406.6 1948.4,3417.1 1949.0,3426.6C1949.7,3436.2 1950.5,3447.1 1951.2,3453.9C1951.9,3460.8 1952.5,3464.9 1953.1,3467.6C1953.8,3470.3 1954.6,3471.2 1955.3,3470.3C1956.1,3469.4 1956.8,3466.2 1957.5,3462.1C1958.2,3458.0 1959.0,3450.3 1959.7,3445.7C1960.4,3441.2 1960.9,3437.3 1961.9,3434.8C1962.8,3432.3 1964.5,3433.4 1965.4,3430.7C1966.3,3428.0 1966.7,3423.7 1967.3,3418.4C1968.0,3413.2 1968.8,3403.6 1969.5,3399.3C1970.3,3395.0 1970.9,3392.9 1971.7,3392.5C1972.5,3392.0 1973.5,3393.6 1974.4,3396.6C1975.4,3399.5 1976.3,3405.2 1977.2,3410.2C1978.1,3415.2 1979.0,3421.2 1979.9,3426.6C1980.8,3432.1 1981.7,3439.1 1982.6,3443.0C1983.6,3446.9 1984.5,3449.8 1985.4,3449.8C1986.3,3449.8 1987.2,3446.9 1988.1,3443.0C1989.0,3439.1 1989.9,3430.7 1990.8,3426.6C1991.7,3422.5 1992.7,3418.9 1993.6,3418.4C1994.4,3418.0 1995.1,3419.3 1995.8,3423.9C1996.4,3428.4 1996.9,3436.6 1997.4,3445.7C1997.9,3454.8 1998.3,3466.2 1998.8,3478.5C1999.2,3490.8 1999.7,3505.8 2000.1,3519.5C2000.5,3533.1 2000.8,3547.7 2001.2,3560.5C2001.6,3573.2 2001.9,3588.9 2002.3,3596.0C2002.7,3603.0 2003.0,3604.2 2003.4,3602.8C2003.8,3601.4 2004.1,3597.1 2004.5,3587.8C2004.9,3578.4 2005.2,3561.4 2005.6,3546.8C2005.9,3532.2 2006.2,3515.4 2006.7,3500.4C2007.1,3485.3 2007.7,3470.8 2008.3,3456.7C2009.0,3442.5 2009.7,3428.0 2010.5,3415.7C2011.3,3403.4 2012.2,3391.6 2013.2,3382.9C2014.2,3374.3 2015.2,3369.0 2016.5,3363.8C2017.8,3358.6 2019.4,3354.7 2020.9,3351.5C2022.4,3348.3 2024.7,3345.8 2025.5,3344.7" stroke="#d62eff" stroke-width="5" shape-rendering="crispEdges"/>
<line x1="472.9" y1="2228.4" x2="474.3" y2="3370.3" stroke="#000" stroke-width="3" shape-rendering="crispEdges"/>
<line x1="389.0" y1="2501" x2="389.5" y2="3361.3" stroke="#9933ff" stroke-width="3" shape-rendering="crispEdges"/>
<line x1="1403.6" y1="2176.9" x2="1396.5" y2="3717.9" stroke="#9933ff" stroke-width="4.8" stroke-dasharray="23.1 8.3 6.8 8.2" shape-rendering="crispEdges"/>
<rect x="1684.4" y="2244.5" width="202.19999999999982" height="1480.8000000000002" fill="none" stroke="#ff0000" stroke-width="5.1" stroke-dasharray="16 1.2 6.8 1.2 16 1.2" shape-rendering="crispEdges"/>
<text class="tick" x="90.1" y="3836.6" font-size="66.3">4000</text>
<text class="tick" x="668.5" y="3836.6" font-size="66.3">3000</text>
<text class="tick" x="1247.0" y="3836.6" font-size="66.3">2000</text>
<text class="tick" x="1825.4" y="3836.6" font-size="66.3">1000</text>
<text class="lab" x="97.6" y="2243.4" fill="#000" font-size="47.4" text-anchor="start">CNC_LIOF</text>
<text class="lab" x="93.6" y="2548.4" fill="#0000ff" font-size="47.7" text-anchor="start">FD_CNC2</text>
<text class="lab" x="89.3" y="2814.4" fill="#00c8c8" font-size="47.6" text-anchor="start">SE_CNC2</text>
<text class="lab" x="84.2" y="3232.4" fill="#9933ff" font-size="47.7" text-anchor="start">NX9203</text>
<text class="lab" x="249.1" y="3323.5" fill="#9933ff" font-size="56.1" text-anchor="start">OH</text>
<text class="lab" x="170.7" y="3390.6" fill="#9933ff" font-size="55.6" text-anchor="start">@polyol</text>
<text class="lab" x="414.8" y="3568.9" fill="#000" font-size="56.5" text-anchor="start">OH</text>
<text class="lab" x="336.3" y="3634.2" fill="#000" font-size="56.0" text-anchor="start">@cellulose</text>
<text class="lab" x="1190" y="3540.3" fill="#9933ff" font-size="55.3" text-anchor="start">C=O</text>
<text class="lab" x="1174.3" y="3606.3" fill="#9933ff" font-size="55.0" text-anchor="start">Polyol</text>
<text class="ttl" x="1058.7" y="3988.0" font-size="94.4" letter-spacing="1.0">Wavenumber (cm<tspan dy="-40.0" font-size="60.5">-1</tspan><tspan dy="40.0">)</tspan></text>
</g>
</svg>
</body></html>
